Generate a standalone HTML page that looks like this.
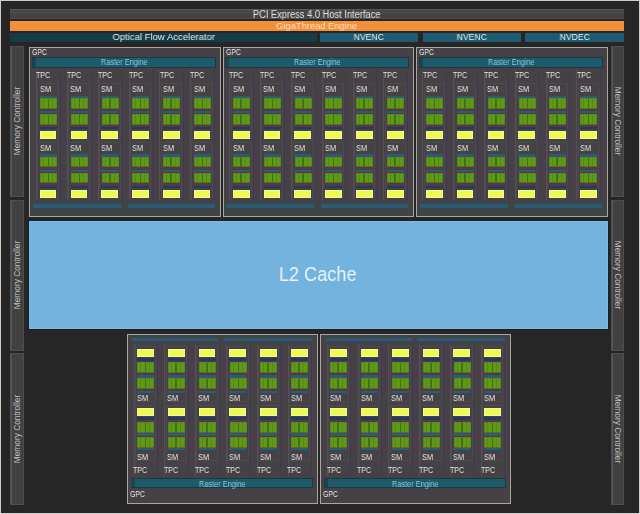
<!DOCTYPE html>
<html><head><meta charset="utf-8"><style>
html,body{margin:0;padding:0;}
body{width:640px;height:514px;position:relative;overflow:hidden;background:#cdcdcd;font-family:"Liberation Sans", sans-serif;}
body div{position:absolute;box-sizing:border-box;white-space:nowrap;}
body div>span{will-change:transform;}
</style></head><body>
<div id="wrap" style="left:0;top:0;width:640px;height:514px;">
<div style="left:1px;top:1px;width:638px;height:512px;background:#262626"></div>
<div style="left:10.00px;top:9.00px;width:614.00px;height:10.00px;background:linear-gradient(#575757 0 1px,#48484a 1px 5px,#424346 5px 9px,#524e4e 9px);"></div>
<div style="left:10.00px;top:9.80px;width:614.00px;height:10.00px;line-height:10.00px;font-size:10px;color:#e4e4e4;text-align:center;"><span style="display:inline-block;transform:scaleX(0.93);transform-origin:center center">PCI Express 4.0 Host Interface</span></div>
<div style="left:10.00px;top:21.00px;width:614.00px;height:10.00px;background:#f2913a;"></div>
<div style="left:10.00px;top:21.20px;width:614.00px;height:10.00px;line-height:10.00px;font-size:9.6px;color:#ffe2c6;text-align:center;"><span style="display:inline-block;transform:scaleX(0.975);transform-origin:center center">GigaThread Engine</span></div>
<div style="left:10.00px;top:32.50px;width:306.50px;height:9.50px;background:#153c48;"></div>
<div style="left:10.00px;top:32.30px;width:306.50px;height:9.50px;line-height:9.50px;font-size:9.6px;color:#e2eff3;text-align:center;"><span style="display:inline-block;transform:scaleX(0.99);transform-origin:center center">Optical Flow Accelerator</span></div>
<div style="left:320.00px;top:32.50px;width:98.00px;height:9.50px;background:#1f5b70;"></div>
<div style="left:320.00px;top:32.20px;width:98.00px;height:9.50px;line-height:9.50px;font-size:9.6px;color:#e6f3f7;text-align:center;"><span style="display:inline-block;transform:scaleX(0.9);transform-origin:center center">NVENC</span></div>
<div style="left:422.50px;top:32.50px;width:98.50px;height:9.50px;background:#1f5b70;"></div>
<div style="left:422.50px;top:32.20px;width:98.50px;height:9.50px;line-height:9.50px;font-size:9.6px;color:#e6f3f7;text-align:center;"><span style="display:inline-block;transform:scaleX(0.9);transform-origin:center center">NVENC</span></div>
<div style="left:525.00px;top:32.50px;width:99.00px;height:9.50px;background:#1f5b70;"></div>
<div style="left:525.00px;top:32.20px;width:99.00px;height:9.50px;line-height:9.50px;font-size:9.6px;color:#e6f3f7;text-align:center;"><span style="display:inline-block;transform:scaleX(0.9);transform-origin:center center">NVDEC</span></div>
<div style="left:10.30px;top:46.00px;width:13.40px;height:150.50px;background:#414141;box-shadow:inset 0 0 0 1px #4e4e4e;"></div>
<div style="left:11.30px;top:47.00px;width:1.00px;height:148.50px;background:#585858;"></div>
<div style="left:-33.00px;top:116.25px;width:100px;height:10px;line-height:10px;font-size:9.2px;color:#c0c0c0;text-align:center;transform:rotate(-90deg) scaleX(0.905);">Memory Controller</div>
<div style="left:10.30px;top:199.80px;width:13.40px;height:151.20px;background:#414141;box-shadow:inset 0 0 0 1px #4e4e4e;"></div>
<div style="left:11.30px;top:200.80px;width:1.00px;height:149.20px;background:#585858;"></div>
<div style="left:-33.00px;top:270.40px;width:100px;height:10px;line-height:10px;font-size:9.2px;color:#c0c0c0;text-align:center;transform:rotate(-90deg) scaleX(0.905);">Memory Controller</div>
<div style="left:10.30px;top:353.00px;width:13.40px;height:151.60px;background:#414141;box-shadow:inset 0 0 0 1px #4e4e4e;"></div>
<div style="left:11.30px;top:354.00px;width:1.00px;height:149.60px;background:#585858;"></div>
<div style="left:-33.00px;top:423.80px;width:100px;height:10px;line-height:10px;font-size:9.2px;color:#c0c0c0;text-align:center;transform:rotate(-90deg) scaleX(0.905);">Memory Controller</div>
<div style="left:610.80px;top:46.00px;width:13.40px;height:150.50px;background:#414141;box-shadow:inset 0 0 0 1px #4e4e4e;"></div>
<div style="left:611.80px;top:47.00px;width:1.00px;height:148.50px;background:#585858;"></div>
<div style="left:567.50px;top:116.25px;width:100px;height:10px;line-height:10px;font-size:9.2px;color:#c0c0c0;text-align:center;transform:rotate(90deg) scaleX(0.905);">Memory Controller</div>
<div style="left:610.80px;top:199.80px;width:13.40px;height:151.20px;background:#414141;box-shadow:inset 0 0 0 1px #4e4e4e;"></div>
<div style="left:611.80px;top:200.80px;width:1.00px;height:149.20px;background:#585858;"></div>
<div style="left:567.50px;top:270.40px;width:100px;height:10px;line-height:10px;font-size:9.2px;color:#c0c0c0;text-align:center;transform:rotate(90deg) scaleX(0.905);">Memory Controller</div>
<div style="left:610.80px;top:353.00px;width:13.40px;height:151.60px;background:#414141;box-shadow:inset 0 0 0 1px #4e4e4e;"></div>
<div style="left:611.80px;top:354.00px;width:1.00px;height:149.60px;background:#585858;"></div>
<div style="left:567.50px;top:423.80px;width:100px;height:10px;line-height:10px;font-size:9.2px;color:#c0c0c0;text-align:center;transform:rotate(90deg) scaleX(0.905);">Memory Controller</div>
<div style="left:27.60px;top:218.60px;width:581.00px;height:111.60px;background:linear-gradient(#25232b 0,#1b2431 1.5px,#13202e 2.4px);"></div>
<div style="left:28.60px;top:220.60px;width:579.00px;height:108.40px;background:#73b3dd;box-shadow:inset 0 0 0 1px #7fbbdd;"></div>
<div style="left:28.50px;top:219.70px;width:579.20px;height:108.50px;line-height:108.50px;font-size:19.5px;color:#eaf5fc;text-align:center;"><span style="display:inline-block;transform:scaleX(0.93);transform-origin:center center">L2 Cache</span></div>
<div style="left:29.20px;top:47.00px;width:191.50px;height:169.80px;background:#464144;box-shadow:inset 0 0 0 1px #a8a5a2;"></div>
<div style="left:32.20px;top:48.60px;width:30.00px;height:7.50px;line-height:7.50px;font-size:8.4px;color:#ececec;text-align:left;"><span style="display:inline-block;transform:scaleX(0.82);transform-origin:left center">GPC</span></div>
<div style="left:31.80px;top:57.00px;width:183.90px;height:10.50px;background:#1f5a6a;box-shadow:inset 0 0 0 1px #173a44;"></div>
<div style="left:32.60px;top:58.00px;width:3.20px;height:8.50px;background:#1c4550;"></div>
<div style="left:31.80px;top:57.30px;width:183.90px;height:10.50px;line-height:10.50px;font-size:8.6px;color:#86cde4;text-align:center;"><span style="display:inline-block;transform:scaleX(0.855);transform-origin:center center">Raster Engine</span></div>
<div style="left:32.20px;top:97.80px;width:185.50px;height:1.20px;background:#5a3550;opacity:.7;"></div>
<div style="left:32.20px;top:108.10px;width:185.50px;height:1.20px;background:#5a3550;opacity:.7;"></div>
<div style="left:32.20px;top:113.70px;width:185.50px;height:1.20px;background:#5a3550;opacity:.7;"></div>
<div style="left:32.20px;top:124.20px;width:185.50px;height:1.20px;background:#5a3550;opacity:.7;"></div>
<div style="left:32.20px;top:156.40px;width:185.50px;height:1.20px;background:#5a3550;opacity:.7;"></div>
<div style="left:32.20px;top:166.70px;width:185.50px;height:1.20px;background:#5a3550;opacity:.7;"></div>
<div style="left:32.20px;top:172.30px;width:185.50px;height:1.20px;background:#5a3550;opacity:.7;"></div>
<div style="left:32.20px;top:182.80px;width:185.50px;height:1.20px;background:#5a3550;opacity:.7;"></div>
<div style="left:36.20px;top:70.00px;width:1.00px;height:130.00px;background:#535158;"></div>
<div style="left:59.70px;top:70.00px;width:1.00px;height:130.00px;background:#3c3a56;"></div>
<div style="left:36.30px;top:71.40px;width:20.00px;height:8.00px;line-height:8.00px;font-size:8.4px;color:#e8e8e8;text-align:left;"><span style="display:inline-block;transform:scaleX(0.85);transform-origin:left center">TPC</span></div>
<div style="left:37.40px;top:83.20px;width:21.60px;height:56.00px;box-shadow:inset 0 0 0 1px #4c4a4c;"></div>
<div style="left:39.50px;top:86.00px;width:16.00px;height:7.50px;line-height:7.50px;font-size:8.2px;color:#e8e8e8;text-align:left;"><span style="display:inline-block;transform:scaleX(0.9);transform-origin:left center">SM</span></div>
<div style="left:39.70px;top:95.50px;width:17.00px;height:2.50px;background:#236078;"></div>
<div style="left:39.70px;top:110.50px;width:17.00px;height:2.50px;background:#236078;"></div>
<div style="left:39.70px;top:126.80px;width:17.00px;height:2.50px;background:#203a66;"></div>
<div style="left:39.90px;top:98.30px;width:17.00px;height:10.30px;background:linear-gradient(90deg,#4f8c1a 0 1px,#5e9a14 1px 3px,#4f8c1a 3px 4px,#5e9a14 4px 7.5px,#3b7418 7.5px 9px,#5e9a14 9px 12px,#4f8c1a 12px 13px,#5e9a14 13px 16px,#4f8c1a 16px 17px);"></div>
<div style="left:39.90px;top:98.30px;width:17.00px;height:1.00px;background:#8a6a20;opacity:.75;"></div>
<div style="left:39.90px;top:107.60px;width:17.00px;height:1.00px;background:#8a4a20;opacity:.75;"></div>
<div style="left:39.90px;top:114.20px;width:17.00px;height:10.50px;background:linear-gradient(90deg,#4f8c1a 0 1px,#5e9a14 1px 3px,#4f8c1a 3px 4px,#5e9a14 4px 7.5px,#3b7418 7.5px 9px,#5e9a14 9px 12px,#4f8c1a 12px 13px,#5e9a14 13px 16px,#4f8c1a 16px 17px);"></div>
<div style="left:39.90px;top:114.20px;width:17.00px;height:1.00px;background:#8a6a20;opacity:.75;"></div>
<div style="left:39.90px;top:123.70px;width:17.00px;height:1.00px;background:#8a4a20;opacity:.75;"></div>
<div style="left:39.70px;top:131.00px;width:16.80px;height:7.70px;background:#eefa4e;box-shadow:inset 0 0 0 1px #f2f8a0;"></div>
<div style="left:37.40px;top:142.40px;width:21.60px;height:56.00px;box-shadow:inset 0 0 0 1px #4c4a4c;"></div>
<div style="left:39.50px;top:145.20px;width:16.00px;height:7.50px;line-height:7.50px;font-size:8.2px;color:#e8e8e8;text-align:left;"><span style="display:inline-block;transform:scaleX(0.9);transform-origin:left center">SM</span></div>
<div style="left:39.70px;top:154.00px;width:17.00px;height:2.50px;background:#236078;"></div>
<div style="left:39.70px;top:169.60px;width:17.00px;height:2.50px;background:#236078;"></div>
<div style="left:39.70px;top:185.80px;width:17.00px;height:2.50px;background:#203a66;"></div>
<div style="left:39.90px;top:156.90px;width:17.00px;height:10.30px;background:linear-gradient(90deg,#4f8c1a 0 1px,#5e9a14 1px 3px,#4f8c1a 3px 4px,#5e9a14 4px 7.5px,#3b7418 7.5px 9px,#5e9a14 9px 12px,#4f8c1a 12px 13px,#5e9a14 13px 16px,#4f8c1a 16px 17px);"></div>
<div style="left:39.90px;top:156.90px;width:17.00px;height:1.00px;background:#8a6a20;opacity:.75;"></div>
<div style="left:39.90px;top:166.20px;width:17.00px;height:1.00px;background:#8a4a20;opacity:.75;"></div>
<div style="left:39.90px;top:172.80px;width:17.00px;height:10.50px;background:linear-gradient(90deg,#4f8c1a 0 1px,#5e9a14 1px 3px,#4f8c1a 3px 4px,#5e9a14 4px 7.5px,#3b7418 7.5px 9px,#5e9a14 9px 12px,#4f8c1a 12px 13px,#5e9a14 13px 16px,#4f8c1a 16px 17px);"></div>
<div style="left:39.90px;top:172.80px;width:17.00px;height:1.00px;background:#8a6a20;opacity:.75;"></div>
<div style="left:39.90px;top:182.30px;width:17.00px;height:1.00px;background:#8a4a20;opacity:.75;"></div>
<div style="left:39.70px;top:190.00px;width:16.80px;height:7.70px;background:#eefa4e;box-shadow:inset 0 0 0 1px #f2f8a0;"></div>
<div style="left:67.00px;top:70.00px;width:1.00px;height:130.00px;background:#535158;"></div>
<div style="left:90.50px;top:70.00px;width:1.00px;height:130.00px;background:#3c3a56;"></div>
<div style="left:67.10px;top:71.40px;width:20.00px;height:8.00px;line-height:8.00px;font-size:8.4px;color:#e8e8e8;text-align:left;"><span style="display:inline-block;transform:scaleX(0.85);transform-origin:left center">TPC</span></div>
<div style="left:68.20px;top:83.20px;width:21.60px;height:56.00px;box-shadow:inset 0 0 0 1px #4c4a4c;"></div>
<div style="left:70.30px;top:86.00px;width:16.00px;height:7.50px;line-height:7.50px;font-size:8.2px;color:#e8e8e8;text-align:left;"><span style="display:inline-block;transform:scaleX(0.9);transform-origin:left center">SM</span></div>
<div style="left:70.50px;top:95.50px;width:17.00px;height:2.50px;background:#236078;"></div>
<div style="left:70.50px;top:110.50px;width:17.00px;height:2.50px;background:#236078;"></div>
<div style="left:70.50px;top:126.80px;width:17.00px;height:2.50px;background:#203a66;"></div>
<div style="left:70.70px;top:98.30px;width:17.00px;height:10.30px;background:linear-gradient(90deg,#4f8c1a 0 1px,#5e9a14 1px 3px,#4f8c1a 3px 4px,#5e9a14 4px 7.5px,#3b7418 7.5px 9px,#5e9a14 9px 12px,#4f8c1a 12px 13px,#5e9a14 13px 16px,#4f8c1a 16px 17px);"></div>
<div style="left:70.70px;top:98.30px;width:17.00px;height:1.00px;background:#8a6a20;opacity:.75;"></div>
<div style="left:70.70px;top:107.60px;width:17.00px;height:1.00px;background:#8a4a20;opacity:.75;"></div>
<div style="left:70.70px;top:114.20px;width:17.00px;height:10.50px;background:linear-gradient(90deg,#4f8c1a 0 1px,#5e9a14 1px 3px,#4f8c1a 3px 4px,#5e9a14 4px 7.5px,#3b7418 7.5px 9px,#5e9a14 9px 12px,#4f8c1a 12px 13px,#5e9a14 13px 16px,#4f8c1a 16px 17px);"></div>
<div style="left:70.70px;top:114.20px;width:17.00px;height:1.00px;background:#8a6a20;opacity:.75;"></div>
<div style="left:70.70px;top:123.70px;width:17.00px;height:1.00px;background:#8a4a20;opacity:.75;"></div>
<div style="left:70.50px;top:131.00px;width:16.80px;height:7.70px;background:#eefa4e;box-shadow:inset 0 0 0 1px #f2f8a0;"></div>
<div style="left:68.20px;top:142.40px;width:21.60px;height:56.00px;box-shadow:inset 0 0 0 1px #4c4a4c;"></div>
<div style="left:70.30px;top:145.20px;width:16.00px;height:7.50px;line-height:7.50px;font-size:8.2px;color:#e8e8e8;text-align:left;"><span style="display:inline-block;transform:scaleX(0.9);transform-origin:left center">SM</span></div>
<div style="left:70.50px;top:154.00px;width:17.00px;height:2.50px;background:#236078;"></div>
<div style="left:70.50px;top:169.60px;width:17.00px;height:2.50px;background:#236078;"></div>
<div style="left:70.50px;top:185.80px;width:17.00px;height:2.50px;background:#203a66;"></div>
<div style="left:70.70px;top:156.90px;width:17.00px;height:10.30px;background:linear-gradient(90deg,#4f8c1a 0 1px,#5e9a14 1px 3px,#4f8c1a 3px 4px,#5e9a14 4px 7.5px,#3b7418 7.5px 9px,#5e9a14 9px 12px,#4f8c1a 12px 13px,#5e9a14 13px 16px,#4f8c1a 16px 17px);"></div>
<div style="left:70.70px;top:156.90px;width:17.00px;height:1.00px;background:#8a6a20;opacity:.75;"></div>
<div style="left:70.70px;top:166.20px;width:17.00px;height:1.00px;background:#8a4a20;opacity:.75;"></div>
<div style="left:70.70px;top:172.80px;width:17.00px;height:10.50px;background:linear-gradient(90deg,#4f8c1a 0 1px,#5e9a14 1px 3px,#4f8c1a 3px 4px,#5e9a14 4px 7.5px,#3b7418 7.5px 9px,#5e9a14 9px 12px,#4f8c1a 12px 13px,#5e9a14 13px 16px,#4f8c1a 16px 17px);"></div>
<div style="left:70.70px;top:172.80px;width:17.00px;height:1.00px;background:#8a6a20;opacity:.75;"></div>
<div style="left:70.70px;top:182.30px;width:17.00px;height:1.00px;background:#8a4a20;opacity:.75;"></div>
<div style="left:70.50px;top:190.00px;width:16.80px;height:7.70px;background:#eefa4e;box-shadow:inset 0 0 0 1px #f2f8a0;"></div>
<div style="left:97.80px;top:70.00px;width:1.00px;height:130.00px;background:#535158;"></div>
<div style="left:121.30px;top:70.00px;width:1.00px;height:130.00px;background:#3c3a56;"></div>
<div style="left:97.90px;top:71.40px;width:20.00px;height:8.00px;line-height:8.00px;font-size:8.4px;color:#e8e8e8;text-align:left;"><span style="display:inline-block;transform:scaleX(0.85);transform-origin:left center">TPC</span></div>
<div style="left:99.00px;top:83.20px;width:21.60px;height:56.00px;box-shadow:inset 0 0 0 1px #4c4a4c;"></div>
<div style="left:101.10px;top:86.00px;width:16.00px;height:7.50px;line-height:7.50px;font-size:8.2px;color:#e8e8e8;text-align:left;"><span style="display:inline-block;transform:scaleX(0.9);transform-origin:left center">SM</span></div>
<div style="left:101.30px;top:95.50px;width:17.00px;height:2.50px;background:#236078;"></div>
<div style="left:101.30px;top:110.50px;width:17.00px;height:2.50px;background:#236078;"></div>
<div style="left:101.30px;top:126.80px;width:17.00px;height:2.50px;background:#203a66;"></div>
<div style="left:101.50px;top:98.30px;width:17.00px;height:10.30px;background:linear-gradient(90deg,#4f8c1a 0 1px,#5e9a14 1px 3px,#4f8c1a 3px 4px,#5e9a14 4px 7.5px,#3b7418 7.5px 9px,#5e9a14 9px 12px,#4f8c1a 12px 13px,#5e9a14 13px 16px,#4f8c1a 16px 17px);"></div>
<div style="left:101.50px;top:98.30px;width:17.00px;height:1.00px;background:#8a6a20;opacity:.75;"></div>
<div style="left:101.50px;top:107.60px;width:17.00px;height:1.00px;background:#8a4a20;opacity:.75;"></div>
<div style="left:101.50px;top:114.20px;width:17.00px;height:10.50px;background:linear-gradient(90deg,#4f8c1a 0 1px,#5e9a14 1px 3px,#4f8c1a 3px 4px,#5e9a14 4px 7.5px,#3b7418 7.5px 9px,#5e9a14 9px 12px,#4f8c1a 12px 13px,#5e9a14 13px 16px,#4f8c1a 16px 17px);"></div>
<div style="left:101.50px;top:114.20px;width:17.00px;height:1.00px;background:#8a6a20;opacity:.75;"></div>
<div style="left:101.50px;top:123.70px;width:17.00px;height:1.00px;background:#8a4a20;opacity:.75;"></div>
<div style="left:101.30px;top:131.00px;width:16.80px;height:7.70px;background:#eefa4e;box-shadow:inset 0 0 0 1px #f2f8a0;"></div>
<div style="left:99.00px;top:142.40px;width:21.60px;height:56.00px;box-shadow:inset 0 0 0 1px #4c4a4c;"></div>
<div style="left:101.10px;top:145.20px;width:16.00px;height:7.50px;line-height:7.50px;font-size:8.2px;color:#e8e8e8;text-align:left;"><span style="display:inline-block;transform:scaleX(0.9);transform-origin:left center">SM</span></div>
<div style="left:101.30px;top:154.00px;width:17.00px;height:2.50px;background:#236078;"></div>
<div style="left:101.30px;top:169.60px;width:17.00px;height:2.50px;background:#236078;"></div>
<div style="left:101.30px;top:185.80px;width:17.00px;height:2.50px;background:#203a66;"></div>
<div style="left:101.50px;top:156.90px;width:17.00px;height:10.30px;background:linear-gradient(90deg,#4f8c1a 0 1px,#5e9a14 1px 3px,#4f8c1a 3px 4px,#5e9a14 4px 7.5px,#3b7418 7.5px 9px,#5e9a14 9px 12px,#4f8c1a 12px 13px,#5e9a14 13px 16px,#4f8c1a 16px 17px);"></div>
<div style="left:101.50px;top:156.90px;width:17.00px;height:1.00px;background:#8a6a20;opacity:.75;"></div>
<div style="left:101.50px;top:166.20px;width:17.00px;height:1.00px;background:#8a4a20;opacity:.75;"></div>
<div style="left:101.50px;top:172.80px;width:17.00px;height:10.50px;background:linear-gradient(90deg,#4f8c1a 0 1px,#5e9a14 1px 3px,#4f8c1a 3px 4px,#5e9a14 4px 7.5px,#3b7418 7.5px 9px,#5e9a14 9px 12px,#4f8c1a 12px 13px,#5e9a14 13px 16px,#4f8c1a 16px 17px);"></div>
<div style="left:101.50px;top:172.80px;width:17.00px;height:1.00px;background:#8a6a20;opacity:.75;"></div>
<div style="left:101.50px;top:182.30px;width:17.00px;height:1.00px;background:#8a4a20;opacity:.75;"></div>
<div style="left:101.30px;top:190.00px;width:16.80px;height:7.70px;background:#eefa4e;box-shadow:inset 0 0 0 1px #f2f8a0;"></div>
<div style="left:128.60px;top:70.00px;width:1.00px;height:130.00px;background:#535158;"></div>
<div style="left:152.10px;top:70.00px;width:1.00px;height:130.00px;background:#3c3a56;"></div>
<div style="left:128.70px;top:71.40px;width:20.00px;height:8.00px;line-height:8.00px;font-size:8.4px;color:#e8e8e8;text-align:left;"><span style="display:inline-block;transform:scaleX(0.85);transform-origin:left center">TPC</span></div>
<div style="left:129.80px;top:83.20px;width:21.60px;height:56.00px;box-shadow:inset 0 0 0 1px #4c4a4c;"></div>
<div style="left:131.90px;top:86.00px;width:16.00px;height:7.50px;line-height:7.50px;font-size:8.2px;color:#e8e8e8;text-align:left;"><span style="display:inline-block;transform:scaleX(0.9);transform-origin:left center">SM</span></div>
<div style="left:132.10px;top:95.50px;width:17.00px;height:2.50px;background:#236078;"></div>
<div style="left:132.10px;top:110.50px;width:17.00px;height:2.50px;background:#236078;"></div>
<div style="left:132.10px;top:126.80px;width:17.00px;height:2.50px;background:#203a66;"></div>
<div style="left:132.30px;top:98.30px;width:17.00px;height:10.30px;background:linear-gradient(90deg,#4f8c1a 0 1px,#5e9a14 1px 3px,#4f8c1a 3px 4px,#5e9a14 4px 7.5px,#3b7418 7.5px 9px,#5e9a14 9px 12px,#4f8c1a 12px 13px,#5e9a14 13px 16px,#4f8c1a 16px 17px);"></div>
<div style="left:132.30px;top:98.30px;width:17.00px;height:1.00px;background:#8a6a20;opacity:.75;"></div>
<div style="left:132.30px;top:107.60px;width:17.00px;height:1.00px;background:#8a4a20;opacity:.75;"></div>
<div style="left:132.30px;top:114.20px;width:17.00px;height:10.50px;background:linear-gradient(90deg,#4f8c1a 0 1px,#5e9a14 1px 3px,#4f8c1a 3px 4px,#5e9a14 4px 7.5px,#3b7418 7.5px 9px,#5e9a14 9px 12px,#4f8c1a 12px 13px,#5e9a14 13px 16px,#4f8c1a 16px 17px);"></div>
<div style="left:132.30px;top:114.20px;width:17.00px;height:1.00px;background:#8a6a20;opacity:.75;"></div>
<div style="left:132.30px;top:123.70px;width:17.00px;height:1.00px;background:#8a4a20;opacity:.75;"></div>
<div style="left:132.10px;top:131.00px;width:16.80px;height:7.70px;background:#eefa4e;box-shadow:inset 0 0 0 1px #f2f8a0;"></div>
<div style="left:129.80px;top:142.40px;width:21.60px;height:56.00px;box-shadow:inset 0 0 0 1px #4c4a4c;"></div>
<div style="left:131.90px;top:145.20px;width:16.00px;height:7.50px;line-height:7.50px;font-size:8.2px;color:#e8e8e8;text-align:left;"><span style="display:inline-block;transform:scaleX(0.9);transform-origin:left center">SM</span></div>
<div style="left:132.10px;top:154.00px;width:17.00px;height:2.50px;background:#236078;"></div>
<div style="left:132.10px;top:169.60px;width:17.00px;height:2.50px;background:#236078;"></div>
<div style="left:132.10px;top:185.80px;width:17.00px;height:2.50px;background:#203a66;"></div>
<div style="left:132.30px;top:156.90px;width:17.00px;height:10.30px;background:linear-gradient(90deg,#4f8c1a 0 1px,#5e9a14 1px 3px,#4f8c1a 3px 4px,#5e9a14 4px 7.5px,#3b7418 7.5px 9px,#5e9a14 9px 12px,#4f8c1a 12px 13px,#5e9a14 13px 16px,#4f8c1a 16px 17px);"></div>
<div style="left:132.30px;top:156.90px;width:17.00px;height:1.00px;background:#8a6a20;opacity:.75;"></div>
<div style="left:132.30px;top:166.20px;width:17.00px;height:1.00px;background:#8a4a20;opacity:.75;"></div>
<div style="left:132.30px;top:172.80px;width:17.00px;height:10.50px;background:linear-gradient(90deg,#4f8c1a 0 1px,#5e9a14 1px 3px,#4f8c1a 3px 4px,#5e9a14 4px 7.5px,#3b7418 7.5px 9px,#5e9a14 9px 12px,#4f8c1a 12px 13px,#5e9a14 13px 16px,#4f8c1a 16px 17px);"></div>
<div style="left:132.30px;top:172.80px;width:17.00px;height:1.00px;background:#8a6a20;opacity:.75;"></div>
<div style="left:132.30px;top:182.30px;width:17.00px;height:1.00px;background:#8a4a20;opacity:.75;"></div>
<div style="left:132.10px;top:190.00px;width:16.80px;height:7.70px;background:#eefa4e;box-shadow:inset 0 0 0 1px #f2f8a0;"></div>
<div style="left:159.40px;top:70.00px;width:1.00px;height:130.00px;background:#535158;"></div>
<div style="left:182.90px;top:70.00px;width:1.00px;height:130.00px;background:#3c3a56;"></div>
<div style="left:159.50px;top:71.40px;width:20.00px;height:8.00px;line-height:8.00px;font-size:8.4px;color:#e8e8e8;text-align:left;"><span style="display:inline-block;transform:scaleX(0.85);transform-origin:left center">TPC</span></div>
<div style="left:160.60px;top:83.20px;width:21.60px;height:56.00px;box-shadow:inset 0 0 0 1px #4c4a4c;"></div>
<div style="left:162.70px;top:86.00px;width:16.00px;height:7.50px;line-height:7.50px;font-size:8.2px;color:#e8e8e8;text-align:left;"><span style="display:inline-block;transform:scaleX(0.9);transform-origin:left center">SM</span></div>
<div style="left:162.90px;top:95.50px;width:17.00px;height:2.50px;background:#236078;"></div>
<div style="left:162.90px;top:110.50px;width:17.00px;height:2.50px;background:#236078;"></div>
<div style="left:162.90px;top:126.80px;width:17.00px;height:2.50px;background:#203a66;"></div>
<div style="left:163.10px;top:98.30px;width:17.00px;height:10.30px;background:linear-gradient(90deg,#4f8c1a 0 1px,#5e9a14 1px 3px,#4f8c1a 3px 4px,#5e9a14 4px 7.5px,#3b7418 7.5px 9px,#5e9a14 9px 12px,#4f8c1a 12px 13px,#5e9a14 13px 16px,#4f8c1a 16px 17px);"></div>
<div style="left:163.10px;top:98.30px;width:17.00px;height:1.00px;background:#8a6a20;opacity:.75;"></div>
<div style="left:163.10px;top:107.60px;width:17.00px;height:1.00px;background:#8a4a20;opacity:.75;"></div>
<div style="left:163.10px;top:114.20px;width:17.00px;height:10.50px;background:linear-gradient(90deg,#4f8c1a 0 1px,#5e9a14 1px 3px,#4f8c1a 3px 4px,#5e9a14 4px 7.5px,#3b7418 7.5px 9px,#5e9a14 9px 12px,#4f8c1a 12px 13px,#5e9a14 13px 16px,#4f8c1a 16px 17px);"></div>
<div style="left:163.10px;top:114.20px;width:17.00px;height:1.00px;background:#8a6a20;opacity:.75;"></div>
<div style="left:163.10px;top:123.70px;width:17.00px;height:1.00px;background:#8a4a20;opacity:.75;"></div>
<div style="left:162.90px;top:131.00px;width:16.80px;height:7.70px;background:#eefa4e;box-shadow:inset 0 0 0 1px #f2f8a0;"></div>
<div style="left:160.60px;top:142.40px;width:21.60px;height:56.00px;box-shadow:inset 0 0 0 1px #4c4a4c;"></div>
<div style="left:162.70px;top:145.20px;width:16.00px;height:7.50px;line-height:7.50px;font-size:8.2px;color:#e8e8e8;text-align:left;"><span style="display:inline-block;transform:scaleX(0.9);transform-origin:left center">SM</span></div>
<div style="left:162.90px;top:154.00px;width:17.00px;height:2.50px;background:#236078;"></div>
<div style="left:162.90px;top:169.60px;width:17.00px;height:2.50px;background:#236078;"></div>
<div style="left:162.90px;top:185.80px;width:17.00px;height:2.50px;background:#203a66;"></div>
<div style="left:163.10px;top:156.90px;width:17.00px;height:10.30px;background:linear-gradient(90deg,#4f8c1a 0 1px,#5e9a14 1px 3px,#4f8c1a 3px 4px,#5e9a14 4px 7.5px,#3b7418 7.5px 9px,#5e9a14 9px 12px,#4f8c1a 12px 13px,#5e9a14 13px 16px,#4f8c1a 16px 17px);"></div>
<div style="left:163.10px;top:156.90px;width:17.00px;height:1.00px;background:#8a6a20;opacity:.75;"></div>
<div style="left:163.10px;top:166.20px;width:17.00px;height:1.00px;background:#8a4a20;opacity:.75;"></div>
<div style="left:163.10px;top:172.80px;width:17.00px;height:10.50px;background:linear-gradient(90deg,#4f8c1a 0 1px,#5e9a14 1px 3px,#4f8c1a 3px 4px,#5e9a14 4px 7.5px,#3b7418 7.5px 9px,#5e9a14 9px 12px,#4f8c1a 12px 13px,#5e9a14 13px 16px,#4f8c1a 16px 17px);"></div>
<div style="left:163.10px;top:172.80px;width:17.00px;height:1.00px;background:#8a6a20;opacity:.75;"></div>
<div style="left:163.10px;top:182.30px;width:17.00px;height:1.00px;background:#8a4a20;opacity:.75;"></div>
<div style="left:162.90px;top:190.00px;width:16.80px;height:7.70px;background:#eefa4e;box-shadow:inset 0 0 0 1px #f2f8a0;"></div>
<div style="left:190.20px;top:70.00px;width:1.00px;height:130.00px;background:#535158;"></div>
<div style="left:213.70px;top:70.00px;width:1.00px;height:130.00px;background:#3c3a56;"></div>
<div style="left:190.30px;top:71.40px;width:20.00px;height:8.00px;line-height:8.00px;font-size:8.4px;color:#e8e8e8;text-align:left;"><span style="display:inline-block;transform:scaleX(0.85);transform-origin:left center">TPC</span></div>
<div style="left:191.40px;top:83.20px;width:21.60px;height:56.00px;box-shadow:inset 0 0 0 1px #4c4a4c;"></div>
<div style="left:193.50px;top:86.00px;width:16.00px;height:7.50px;line-height:7.50px;font-size:8.2px;color:#e8e8e8;text-align:left;"><span style="display:inline-block;transform:scaleX(0.9);transform-origin:left center">SM</span></div>
<div style="left:193.70px;top:95.50px;width:17.00px;height:2.50px;background:#236078;"></div>
<div style="left:193.70px;top:110.50px;width:17.00px;height:2.50px;background:#236078;"></div>
<div style="left:193.70px;top:126.80px;width:17.00px;height:2.50px;background:#203a66;"></div>
<div style="left:193.90px;top:98.30px;width:17.00px;height:10.30px;background:linear-gradient(90deg,#4f8c1a 0 1px,#5e9a14 1px 3px,#4f8c1a 3px 4px,#5e9a14 4px 7.5px,#3b7418 7.5px 9px,#5e9a14 9px 12px,#4f8c1a 12px 13px,#5e9a14 13px 16px,#4f8c1a 16px 17px);"></div>
<div style="left:193.90px;top:98.30px;width:17.00px;height:1.00px;background:#8a6a20;opacity:.75;"></div>
<div style="left:193.90px;top:107.60px;width:17.00px;height:1.00px;background:#8a4a20;opacity:.75;"></div>
<div style="left:193.90px;top:114.20px;width:17.00px;height:10.50px;background:linear-gradient(90deg,#4f8c1a 0 1px,#5e9a14 1px 3px,#4f8c1a 3px 4px,#5e9a14 4px 7.5px,#3b7418 7.5px 9px,#5e9a14 9px 12px,#4f8c1a 12px 13px,#5e9a14 13px 16px,#4f8c1a 16px 17px);"></div>
<div style="left:193.90px;top:114.20px;width:17.00px;height:1.00px;background:#8a6a20;opacity:.75;"></div>
<div style="left:193.90px;top:123.70px;width:17.00px;height:1.00px;background:#8a4a20;opacity:.75;"></div>
<div style="left:193.70px;top:131.00px;width:16.80px;height:7.70px;background:#eefa4e;box-shadow:inset 0 0 0 1px #f2f8a0;"></div>
<div style="left:191.40px;top:142.40px;width:21.60px;height:56.00px;box-shadow:inset 0 0 0 1px #4c4a4c;"></div>
<div style="left:193.50px;top:145.20px;width:16.00px;height:7.50px;line-height:7.50px;font-size:8.2px;color:#e8e8e8;text-align:left;"><span style="display:inline-block;transform:scaleX(0.9);transform-origin:left center">SM</span></div>
<div style="left:193.70px;top:154.00px;width:17.00px;height:2.50px;background:#236078;"></div>
<div style="left:193.70px;top:169.60px;width:17.00px;height:2.50px;background:#236078;"></div>
<div style="left:193.70px;top:185.80px;width:17.00px;height:2.50px;background:#203a66;"></div>
<div style="left:193.90px;top:156.90px;width:17.00px;height:10.30px;background:linear-gradient(90deg,#4f8c1a 0 1px,#5e9a14 1px 3px,#4f8c1a 3px 4px,#5e9a14 4px 7.5px,#3b7418 7.5px 9px,#5e9a14 9px 12px,#4f8c1a 12px 13px,#5e9a14 13px 16px,#4f8c1a 16px 17px);"></div>
<div style="left:193.90px;top:156.90px;width:17.00px;height:1.00px;background:#8a6a20;opacity:.75;"></div>
<div style="left:193.90px;top:166.20px;width:17.00px;height:1.00px;background:#8a4a20;opacity:.75;"></div>
<div style="left:193.90px;top:172.80px;width:17.00px;height:10.50px;background:linear-gradient(90deg,#4f8c1a 0 1px,#5e9a14 1px 3px,#4f8c1a 3px 4px,#5e9a14 4px 7.5px,#3b7418 7.5px 9px,#5e9a14 9px 12px,#4f8c1a 12px 13px,#5e9a14 13px 16px,#4f8c1a 16px 17px);"></div>
<div style="left:193.90px;top:172.80px;width:17.00px;height:1.00px;background:#8a6a20;opacity:.75;"></div>
<div style="left:193.90px;top:182.30px;width:17.00px;height:1.00px;background:#8a4a20;opacity:.75;"></div>
<div style="left:193.70px;top:190.00px;width:16.80px;height:7.70px;background:#eefa4e;box-shadow:inset 0 0 0 1px #f2f8a0;"></div>
<div style="left:30.70px;top:200.00px;width:188.50px;height:15.50px;background:#3f4542;"></div>
<div style="left:32.20px;top:201.20px;width:185.50px;height:1.00px;background:#4a3a58;"></div>
<div style="left:32.50px;top:204.20px;width:88.00px;height:3.60px;background:#2a5a74;"></div>
<div style="left:127.70px;top:204.20px;width:87.50px;height:3.60px;background:#2a5a74;"></div>
<div style="left:222.60px;top:47.00px;width:191.10px;height:169.80px;background:#464144;box-shadow:inset 0 0 0 1px #a8a5a2;"></div>
<div style="left:225.60px;top:48.60px;width:30.00px;height:7.50px;line-height:7.50px;font-size:8.4px;color:#ececec;text-align:left;"><span style="display:inline-block;transform:scaleX(0.82);transform-origin:left center">GPC</span></div>
<div style="left:225.20px;top:57.00px;width:183.50px;height:10.50px;background:#1f5a6a;box-shadow:inset 0 0 0 1px #173a44;"></div>
<div style="left:226.00px;top:58.00px;width:3.20px;height:8.50px;background:#1c4550;"></div>
<div style="left:225.20px;top:57.30px;width:183.50px;height:10.50px;line-height:10.50px;font-size:8.6px;color:#86cde4;text-align:center;"><span style="display:inline-block;transform:scaleX(0.855);transform-origin:center center">Raster Engine</span></div>
<div style="left:225.60px;top:97.80px;width:185.10px;height:1.20px;background:#5a3550;opacity:.7;"></div>
<div style="left:225.60px;top:108.10px;width:185.10px;height:1.20px;background:#5a3550;opacity:.7;"></div>
<div style="left:225.60px;top:113.70px;width:185.10px;height:1.20px;background:#5a3550;opacity:.7;"></div>
<div style="left:225.60px;top:124.20px;width:185.10px;height:1.20px;background:#5a3550;opacity:.7;"></div>
<div style="left:225.60px;top:156.40px;width:185.10px;height:1.20px;background:#5a3550;opacity:.7;"></div>
<div style="left:225.60px;top:166.70px;width:185.10px;height:1.20px;background:#5a3550;opacity:.7;"></div>
<div style="left:225.60px;top:172.30px;width:185.10px;height:1.20px;background:#5a3550;opacity:.7;"></div>
<div style="left:225.60px;top:182.80px;width:185.10px;height:1.20px;background:#5a3550;opacity:.7;"></div>
<div style="left:229.30px;top:70.00px;width:1.00px;height:130.00px;background:#535158;"></div>
<div style="left:252.80px;top:70.00px;width:1.00px;height:130.00px;background:#3c3a56;"></div>
<div style="left:229.40px;top:71.40px;width:20.00px;height:8.00px;line-height:8.00px;font-size:8.4px;color:#e8e8e8;text-align:left;"><span style="display:inline-block;transform:scaleX(0.85);transform-origin:left center">TPC</span></div>
<div style="left:230.50px;top:83.20px;width:21.60px;height:56.00px;box-shadow:inset 0 0 0 1px #4c4a4c;"></div>
<div style="left:232.60px;top:86.00px;width:16.00px;height:7.50px;line-height:7.50px;font-size:8.2px;color:#e8e8e8;text-align:left;"><span style="display:inline-block;transform:scaleX(0.9);transform-origin:left center">SM</span></div>
<div style="left:232.80px;top:95.50px;width:17.00px;height:2.50px;background:#236078;"></div>
<div style="left:232.80px;top:110.50px;width:17.00px;height:2.50px;background:#236078;"></div>
<div style="left:232.80px;top:126.80px;width:17.00px;height:2.50px;background:#203a66;"></div>
<div style="left:233.00px;top:98.30px;width:17.00px;height:10.30px;background:linear-gradient(90deg,#4f8c1a 0 1px,#5e9a14 1px 3px,#4f8c1a 3px 4px,#5e9a14 4px 7.5px,#3b7418 7.5px 9px,#5e9a14 9px 12px,#4f8c1a 12px 13px,#5e9a14 13px 16px,#4f8c1a 16px 17px);"></div>
<div style="left:233.00px;top:98.30px;width:17.00px;height:1.00px;background:#8a6a20;opacity:.75;"></div>
<div style="left:233.00px;top:107.60px;width:17.00px;height:1.00px;background:#8a4a20;opacity:.75;"></div>
<div style="left:233.00px;top:114.20px;width:17.00px;height:10.50px;background:linear-gradient(90deg,#4f8c1a 0 1px,#5e9a14 1px 3px,#4f8c1a 3px 4px,#5e9a14 4px 7.5px,#3b7418 7.5px 9px,#5e9a14 9px 12px,#4f8c1a 12px 13px,#5e9a14 13px 16px,#4f8c1a 16px 17px);"></div>
<div style="left:233.00px;top:114.20px;width:17.00px;height:1.00px;background:#8a6a20;opacity:.75;"></div>
<div style="left:233.00px;top:123.70px;width:17.00px;height:1.00px;background:#8a4a20;opacity:.75;"></div>
<div style="left:232.80px;top:131.00px;width:16.80px;height:7.70px;background:#eefa4e;box-shadow:inset 0 0 0 1px #f2f8a0;"></div>
<div style="left:230.50px;top:142.40px;width:21.60px;height:56.00px;box-shadow:inset 0 0 0 1px #4c4a4c;"></div>
<div style="left:232.60px;top:145.20px;width:16.00px;height:7.50px;line-height:7.50px;font-size:8.2px;color:#e8e8e8;text-align:left;"><span style="display:inline-block;transform:scaleX(0.9);transform-origin:left center">SM</span></div>
<div style="left:232.80px;top:154.00px;width:17.00px;height:2.50px;background:#236078;"></div>
<div style="left:232.80px;top:169.60px;width:17.00px;height:2.50px;background:#236078;"></div>
<div style="left:232.80px;top:185.80px;width:17.00px;height:2.50px;background:#203a66;"></div>
<div style="left:233.00px;top:156.90px;width:17.00px;height:10.30px;background:linear-gradient(90deg,#4f8c1a 0 1px,#5e9a14 1px 3px,#4f8c1a 3px 4px,#5e9a14 4px 7.5px,#3b7418 7.5px 9px,#5e9a14 9px 12px,#4f8c1a 12px 13px,#5e9a14 13px 16px,#4f8c1a 16px 17px);"></div>
<div style="left:233.00px;top:156.90px;width:17.00px;height:1.00px;background:#8a6a20;opacity:.75;"></div>
<div style="left:233.00px;top:166.20px;width:17.00px;height:1.00px;background:#8a4a20;opacity:.75;"></div>
<div style="left:233.00px;top:172.80px;width:17.00px;height:10.50px;background:linear-gradient(90deg,#4f8c1a 0 1px,#5e9a14 1px 3px,#4f8c1a 3px 4px,#5e9a14 4px 7.5px,#3b7418 7.5px 9px,#5e9a14 9px 12px,#4f8c1a 12px 13px,#5e9a14 13px 16px,#4f8c1a 16px 17px);"></div>
<div style="left:233.00px;top:172.80px;width:17.00px;height:1.00px;background:#8a6a20;opacity:.75;"></div>
<div style="left:233.00px;top:182.30px;width:17.00px;height:1.00px;background:#8a4a20;opacity:.75;"></div>
<div style="left:232.80px;top:190.00px;width:16.80px;height:7.70px;background:#eefa4e;box-shadow:inset 0 0 0 1px #f2f8a0;"></div>
<div style="left:260.10px;top:70.00px;width:1.00px;height:130.00px;background:#535158;"></div>
<div style="left:283.60px;top:70.00px;width:1.00px;height:130.00px;background:#3c3a56;"></div>
<div style="left:260.20px;top:71.40px;width:20.00px;height:8.00px;line-height:8.00px;font-size:8.4px;color:#e8e8e8;text-align:left;"><span style="display:inline-block;transform:scaleX(0.85);transform-origin:left center">TPC</span></div>
<div style="left:261.30px;top:83.20px;width:21.60px;height:56.00px;box-shadow:inset 0 0 0 1px #4c4a4c;"></div>
<div style="left:263.40px;top:86.00px;width:16.00px;height:7.50px;line-height:7.50px;font-size:8.2px;color:#e8e8e8;text-align:left;"><span style="display:inline-block;transform:scaleX(0.9);transform-origin:left center">SM</span></div>
<div style="left:263.60px;top:95.50px;width:17.00px;height:2.50px;background:#236078;"></div>
<div style="left:263.60px;top:110.50px;width:17.00px;height:2.50px;background:#236078;"></div>
<div style="left:263.60px;top:126.80px;width:17.00px;height:2.50px;background:#203a66;"></div>
<div style="left:263.80px;top:98.30px;width:17.00px;height:10.30px;background:linear-gradient(90deg,#4f8c1a 0 1px,#5e9a14 1px 3px,#4f8c1a 3px 4px,#5e9a14 4px 7.5px,#3b7418 7.5px 9px,#5e9a14 9px 12px,#4f8c1a 12px 13px,#5e9a14 13px 16px,#4f8c1a 16px 17px);"></div>
<div style="left:263.80px;top:98.30px;width:17.00px;height:1.00px;background:#8a6a20;opacity:.75;"></div>
<div style="left:263.80px;top:107.60px;width:17.00px;height:1.00px;background:#8a4a20;opacity:.75;"></div>
<div style="left:263.80px;top:114.20px;width:17.00px;height:10.50px;background:linear-gradient(90deg,#4f8c1a 0 1px,#5e9a14 1px 3px,#4f8c1a 3px 4px,#5e9a14 4px 7.5px,#3b7418 7.5px 9px,#5e9a14 9px 12px,#4f8c1a 12px 13px,#5e9a14 13px 16px,#4f8c1a 16px 17px);"></div>
<div style="left:263.80px;top:114.20px;width:17.00px;height:1.00px;background:#8a6a20;opacity:.75;"></div>
<div style="left:263.80px;top:123.70px;width:17.00px;height:1.00px;background:#8a4a20;opacity:.75;"></div>
<div style="left:263.60px;top:131.00px;width:16.80px;height:7.70px;background:#eefa4e;box-shadow:inset 0 0 0 1px #f2f8a0;"></div>
<div style="left:261.30px;top:142.40px;width:21.60px;height:56.00px;box-shadow:inset 0 0 0 1px #4c4a4c;"></div>
<div style="left:263.40px;top:145.20px;width:16.00px;height:7.50px;line-height:7.50px;font-size:8.2px;color:#e8e8e8;text-align:left;"><span style="display:inline-block;transform:scaleX(0.9);transform-origin:left center">SM</span></div>
<div style="left:263.60px;top:154.00px;width:17.00px;height:2.50px;background:#236078;"></div>
<div style="left:263.60px;top:169.60px;width:17.00px;height:2.50px;background:#236078;"></div>
<div style="left:263.60px;top:185.80px;width:17.00px;height:2.50px;background:#203a66;"></div>
<div style="left:263.80px;top:156.90px;width:17.00px;height:10.30px;background:linear-gradient(90deg,#4f8c1a 0 1px,#5e9a14 1px 3px,#4f8c1a 3px 4px,#5e9a14 4px 7.5px,#3b7418 7.5px 9px,#5e9a14 9px 12px,#4f8c1a 12px 13px,#5e9a14 13px 16px,#4f8c1a 16px 17px);"></div>
<div style="left:263.80px;top:156.90px;width:17.00px;height:1.00px;background:#8a6a20;opacity:.75;"></div>
<div style="left:263.80px;top:166.20px;width:17.00px;height:1.00px;background:#8a4a20;opacity:.75;"></div>
<div style="left:263.80px;top:172.80px;width:17.00px;height:10.50px;background:linear-gradient(90deg,#4f8c1a 0 1px,#5e9a14 1px 3px,#4f8c1a 3px 4px,#5e9a14 4px 7.5px,#3b7418 7.5px 9px,#5e9a14 9px 12px,#4f8c1a 12px 13px,#5e9a14 13px 16px,#4f8c1a 16px 17px);"></div>
<div style="left:263.80px;top:172.80px;width:17.00px;height:1.00px;background:#8a6a20;opacity:.75;"></div>
<div style="left:263.80px;top:182.30px;width:17.00px;height:1.00px;background:#8a4a20;opacity:.75;"></div>
<div style="left:263.60px;top:190.00px;width:16.80px;height:7.70px;background:#eefa4e;box-shadow:inset 0 0 0 1px #f2f8a0;"></div>
<div style="left:290.90px;top:70.00px;width:1.00px;height:130.00px;background:#535158;"></div>
<div style="left:314.40px;top:70.00px;width:1.00px;height:130.00px;background:#3c3a56;"></div>
<div style="left:291.00px;top:71.40px;width:20.00px;height:8.00px;line-height:8.00px;font-size:8.4px;color:#e8e8e8;text-align:left;"><span style="display:inline-block;transform:scaleX(0.85);transform-origin:left center">TPC</span></div>
<div style="left:292.10px;top:83.20px;width:21.60px;height:56.00px;box-shadow:inset 0 0 0 1px #4c4a4c;"></div>
<div style="left:294.20px;top:86.00px;width:16.00px;height:7.50px;line-height:7.50px;font-size:8.2px;color:#e8e8e8;text-align:left;"><span style="display:inline-block;transform:scaleX(0.9);transform-origin:left center">SM</span></div>
<div style="left:294.40px;top:95.50px;width:17.00px;height:2.50px;background:#236078;"></div>
<div style="left:294.40px;top:110.50px;width:17.00px;height:2.50px;background:#236078;"></div>
<div style="left:294.40px;top:126.80px;width:17.00px;height:2.50px;background:#203a66;"></div>
<div style="left:294.60px;top:98.30px;width:17.00px;height:10.30px;background:linear-gradient(90deg,#4f8c1a 0 1px,#5e9a14 1px 3px,#4f8c1a 3px 4px,#5e9a14 4px 7.5px,#3b7418 7.5px 9px,#5e9a14 9px 12px,#4f8c1a 12px 13px,#5e9a14 13px 16px,#4f8c1a 16px 17px);"></div>
<div style="left:294.60px;top:98.30px;width:17.00px;height:1.00px;background:#8a6a20;opacity:.75;"></div>
<div style="left:294.60px;top:107.60px;width:17.00px;height:1.00px;background:#8a4a20;opacity:.75;"></div>
<div style="left:294.60px;top:114.20px;width:17.00px;height:10.50px;background:linear-gradient(90deg,#4f8c1a 0 1px,#5e9a14 1px 3px,#4f8c1a 3px 4px,#5e9a14 4px 7.5px,#3b7418 7.5px 9px,#5e9a14 9px 12px,#4f8c1a 12px 13px,#5e9a14 13px 16px,#4f8c1a 16px 17px);"></div>
<div style="left:294.60px;top:114.20px;width:17.00px;height:1.00px;background:#8a6a20;opacity:.75;"></div>
<div style="left:294.60px;top:123.70px;width:17.00px;height:1.00px;background:#8a4a20;opacity:.75;"></div>
<div style="left:294.40px;top:131.00px;width:16.80px;height:7.70px;background:#eefa4e;box-shadow:inset 0 0 0 1px #f2f8a0;"></div>
<div style="left:292.10px;top:142.40px;width:21.60px;height:56.00px;box-shadow:inset 0 0 0 1px #4c4a4c;"></div>
<div style="left:294.20px;top:145.20px;width:16.00px;height:7.50px;line-height:7.50px;font-size:8.2px;color:#e8e8e8;text-align:left;"><span style="display:inline-block;transform:scaleX(0.9);transform-origin:left center">SM</span></div>
<div style="left:294.40px;top:154.00px;width:17.00px;height:2.50px;background:#236078;"></div>
<div style="left:294.40px;top:169.60px;width:17.00px;height:2.50px;background:#236078;"></div>
<div style="left:294.40px;top:185.80px;width:17.00px;height:2.50px;background:#203a66;"></div>
<div style="left:294.60px;top:156.90px;width:17.00px;height:10.30px;background:linear-gradient(90deg,#4f8c1a 0 1px,#5e9a14 1px 3px,#4f8c1a 3px 4px,#5e9a14 4px 7.5px,#3b7418 7.5px 9px,#5e9a14 9px 12px,#4f8c1a 12px 13px,#5e9a14 13px 16px,#4f8c1a 16px 17px);"></div>
<div style="left:294.60px;top:156.90px;width:17.00px;height:1.00px;background:#8a6a20;opacity:.75;"></div>
<div style="left:294.60px;top:166.20px;width:17.00px;height:1.00px;background:#8a4a20;opacity:.75;"></div>
<div style="left:294.60px;top:172.80px;width:17.00px;height:10.50px;background:linear-gradient(90deg,#4f8c1a 0 1px,#5e9a14 1px 3px,#4f8c1a 3px 4px,#5e9a14 4px 7.5px,#3b7418 7.5px 9px,#5e9a14 9px 12px,#4f8c1a 12px 13px,#5e9a14 13px 16px,#4f8c1a 16px 17px);"></div>
<div style="left:294.60px;top:172.80px;width:17.00px;height:1.00px;background:#8a6a20;opacity:.75;"></div>
<div style="left:294.60px;top:182.30px;width:17.00px;height:1.00px;background:#8a4a20;opacity:.75;"></div>
<div style="left:294.40px;top:190.00px;width:16.80px;height:7.70px;background:#eefa4e;box-shadow:inset 0 0 0 1px #f2f8a0;"></div>
<div style="left:321.70px;top:70.00px;width:1.00px;height:130.00px;background:#535158;"></div>
<div style="left:345.20px;top:70.00px;width:1.00px;height:130.00px;background:#3c3a56;"></div>
<div style="left:321.80px;top:71.40px;width:20.00px;height:8.00px;line-height:8.00px;font-size:8.4px;color:#e8e8e8;text-align:left;"><span style="display:inline-block;transform:scaleX(0.85);transform-origin:left center">TPC</span></div>
<div style="left:322.90px;top:83.20px;width:21.60px;height:56.00px;box-shadow:inset 0 0 0 1px #4c4a4c;"></div>
<div style="left:325.00px;top:86.00px;width:16.00px;height:7.50px;line-height:7.50px;font-size:8.2px;color:#e8e8e8;text-align:left;"><span style="display:inline-block;transform:scaleX(0.9);transform-origin:left center">SM</span></div>
<div style="left:325.20px;top:95.50px;width:17.00px;height:2.50px;background:#236078;"></div>
<div style="left:325.20px;top:110.50px;width:17.00px;height:2.50px;background:#236078;"></div>
<div style="left:325.20px;top:126.80px;width:17.00px;height:2.50px;background:#203a66;"></div>
<div style="left:325.40px;top:98.30px;width:17.00px;height:10.30px;background:linear-gradient(90deg,#4f8c1a 0 1px,#5e9a14 1px 3px,#4f8c1a 3px 4px,#5e9a14 4px 7.5px,#3b7418 7.5px 9px,#5e9a14 9px 12px,#4f8c1a 12px 13px,#5e9a14 13px 16px,#4f8c1a 16px 17px);"></div>
<div style="left:325.40px;top:98.30px;width:17.00px;height:1.00px;background:#8a6a20;opacity:.75;"></div>
<div style="left:325.40px;top:107.60px;width:17.00px;height:1.00px;background:#8a4a20;opacity:.75;"></div>
<div style="left:325.40px;top:114.20px;width:17.00px;height:10.50px;background:linear-gradient(90deg,#4f8c1a 0 1px,#5e9a14 1px 3px,#4f8c1a 3px 4px,#5e9a14 4px 7.5px,#3b7418 7.5px 9px,#5e9a14 9px 12px,#4f8c1a 12px 13px,#5e9a14 13px 16px,#4f8c1a 16px 17px);"></div>
<div style="left:325.40px;top:114.20px;width:17.00px;height:1.00px;background:#8a6a20;opacity:.75;"></div>
<div style="left:325.40px;top:123.70px;width:17.00px;height:1.00px;background:#8a4a20;opacity:.75;"></div>
<div style="left:325.20px;top:131.00px;width:16.80px;height:7.70px;background:#eefa4e;box-shadow:inset 0 0 0 1px #f2f8a0;"></div>
<div style="left:322.90px;top:142.40px;width:21.60px;height:56.00px;box-shadow:inset 0 0 0 1px #4c4a4c;"></div>
<div style="left:325.00px;top:145.20px;width:16.00px;height:7.50px;line-height:7.50px;font-size:8.2px;color:#e8e8e8;text-align:left;"><span style="display:inline-block;transform:scaleX(0.9);transform-origin:left center">SM</span></div>
<div style="left:325.20px;top:154.00px;width:17.00px;height:2.50px;background:#236078;"></div>
<div style="left:325.20px;top:169.60px;width:17.00px;height:2.50px;background:#236078;"></div>
<div style="left:325.20px;top:185.80px;width:17.00px;height:2.50px;background:#203a66;"></div>
<div style="left:325.40px;top:156.90px;width:17.00px;height:10.30px;background:linear-gradient(90deg,#4f8c1a 0 1px,#5e9a14 1px 3px,#4f8c1a 3px 4px,#5e9a14 4px 7.5px,#3b7418 7.5px 9px,#5e9a14 9px 12px,#4f8c1a 12px 13px,#5e9a14 13px 16px,#4f8c1a 16px 17px);"></div>
<div style="left:325.40px;top:156.90px;width:17.00px;height:1.00px;background:#8a6a20;opacity:.75;"></div>
<div style="left:325.40px;top:166.20px;width:17.00px;height:1.00px;background:#8a4a20;opacity:.75;"></div>
<div style="left:325.40px;top:172.80px;width:17.00px;height:10.50px;background:linear-gradient(90deg,#4f8c1a 0 1px,#5e9a14 1px 3px,#4f8c1a 3px 4px,#5e9a14 4px 7.5px,#3b7418 7.5px 9px,#5e9a14 9px 12px,#4f8c1a 12px 13px,#5e9a14 13px 16px,#4f8c1a 16px 17px);"></div>
<div style="left:325.40px;top:172.80px;width:17.00px;height:1.00px;background:#8a6a20;opacity:.75;"></div>
<div style="left:325.40px;top:182.30px;width:17.00px;height:1.00px;background:#8a4a20;opacity:.75;"></div>
<div style="left:325.20px;top:190.00px;width:16.80px;height:7.70px;background:#eefa4e;box-shadow:inset 0 0 0 1px #f2f8a0;"></div>
<div style="left:352.50px;top:70.00px;width:1.00px;height:130.00px;background:#535158;"></div>
<div style="left:376.00px;top:70.00px;width:1.00px;height:130.00px;background:#3c3a56;"></div>
<div style="left:352.60px;top:71.40px;width:20.00px;height:8.00px;line-height:8.00px;font-size:8.4px;color:#e8e8e8;text-align:left;"><span style="display:inline-block;transform:scaleX(0.85);transform-origin:left center">TPC</span></div>
<div style="left:353.70px;top:83.20px;width:21.60px;height:56.00px;box-shadow:inset 0 0 0 1px #4c4a4c;"></div>
<div style="left:355.80px;top:86.00px;width:16.00px;height:7.50px;line-height:7.50px;font-size:8.2px;color:#e8e8e8;text-align:left;"><span style="display:inline-block;transform:scaleX(0.9);transform-origin:left center">SM</span></div>
<div style="left:356.00px;top:95.50px;width:17.00px;height:2.50px;background:#236078;"></div>
<div style="left:356.00px;top:110.50px;width:17.00px;height:2.50px;background:#236078;"></div>
<div style="left:356.00px;top:126.80px;width:17.00px;height:2.50px;background:#203a66;"></div>
<div style="left:356.20px;top:98.30px;width:17.00px;height:10.30px;background:linear-gradient(90deg,#4f8c1a 0 1px,#5e9a14 1px 3px,#4f8c1a 3px 4px,#5e9a14 4px 7.5px,#3b7418 7.5px 9px,#5e9a14 9px 12px,#4f8c1a 12px 13px,#5e9a14 13px 16px,#4f8c1a 16px 17px);"></div>
<div style="left:356.20px;top:98.30px;width:17.00px;height:1.00px;background:#8a6a20;opacity:.75;"></div>
<div style="left:356.20px;top:107.60px;width:17.00px;height:1.00px;background:#8a4a20;opacity:.75;"></div>
<div style="left:356.20px;top:114.20px;width:17.00px;height:10.50px;background:linear-gradient(90deg,#4f8c1a 0 1px,#5e9a14 1px 3px,#4f8c1a 3px 4px,#5e9a14 4px 7.5px,#3b7418 7.5px 9px,#5e9a14 9px 12px,#4f8c1a 12px 13px,#5e9a14 13px 16px,#4f8c1a 16px 17px);"></div>
<div style="left:356.20px;top:114.20px;width:17.00px;height:1.00px;background:#8a6a20;opacity:.75;"></div>
<div style="left:356.20px;top:123.70px;width:17.00px;height:1.00px;background:#8a4a20;opacity:.75;"></div>
<div style="left:356.00px;top:131.00px;width:16.80px;height:7.70px;background:#eefa4e;box-shadow:inset 0 0 0 1px #f2f8a0;"></div>
<div style="left:353.70px;top:142.40px;width:21.60px;height:56.00px;box-shadow:inset 0 0 0 1px #4c4a4c;"></div>
<div style="left:355.80px;top:145.20px;width:16.00px;height:7.50px;line-height:7.50px;font-size:8.2px;color:#e8e8e8;text-align:left;"><span style="display:inline-block;transform:scaleX(0.9);transform-origin:left center">SM</span></div>
<div style="left:356.00px;top:154.00px;width:17.00px;height:2.50px;background:#236078;"></div>
<div style="left:356.00px;top:169.60px;width:17.00px;height:2.50px;background:#236078;"></div>
<div style="left:356.00px;top:185.80px;width:17.00px;height:2.50px;background:#203a66;"></div>
<div style="left:356.20px;top:156.90px;width:17.00px;height:10.30px;background:linear-gradient(90deg,#4f8c1a 0 1px,#5e9a14 1px 3px,#4f8c1a 3px 4px,#5e9a14 4px 7.5px,#3b7418 7.5px 9px,#5e9a14 9px 12px,#4f8c1a 12px 13px,#5e9a14 13px 16px,#4f8c1a 16px 17px);"></div>
<div style="left:356.20px;top:156.90px;width:17.00px;height:1.00px;background:#8a6a20;opacity:.75;"></div>
<div style="left:356.20px;top:166.20px;width:17.00px;height:1.00px;background:#8a4a20;opacity:.75;"></div>
<div style="left:356.20px;top:172.80px;width:17.00px;height:10.50px;background:linear-gradient(90deg,#4f8c1a 0 1px,#5e9a14 1px 3px,#4f8c1a 3px 4px,#5e9a14 4px 7.5px,#3b7418 7.5px 9px,#5e9a14 9px 12px,#4f8c1a 12px 13px,#5e9a14 13px 16px,#4f8c1a 16px 17px);"></div>
<div style="left:356.20px;top:172.80px;width:17.00px;height:1.00px;background:#8a6a20;opacity:.75;"></div>
<div style="left:356.20px;top:182.30px;width:17.00px;height:1.00px;background:#8a4a20;opacity:.75;"></div>
<div style="left:356.00px;top:190.00px;width:16.80px;height:7.70px;background:#eefa4e;box-shadow:inset 0 0 0 1px #f2f8a0;"></div>
<div style="left:383.30px;top:70.00px;width:1.00px;height:130.00px;background:#535158;"></div>
<div style="left:406.80px;top:70.00px;width:1.00px;height:130.00px;background:#3c3a56;"></div>
<div style="left:383.40px;top:71.40px;width:20.00px;height:8.00px;line-height:8.00px;font-size:8.4px;color:#e8e8e8;text-align:left;"><span style="display:inline-block;transform:scaleX(0.85);transform-origin:left center">TPC</span></div>
<div style="left:384.50px;top:83.20px;width:21.60px;height:56.00px;box-shadow:inset 0 0 0 1px #4c4a4c;"></div>
<div style="left:386.60px;top:86.00px;width:16.00px;height:7.50px;line-height:7.50px;font-size:8.2px;color:#e8e8e8;text-align:left;"><span style="display:inline-block;transform:scaleX(0.9);transform-origin:left center">SM</span></div>
<div style="left:386.80px;top:95.50px;width:17.00px;height:2.50px;background:#236078;"></div>
<div style="left:386.80px;top:110.50px;width:17.00px;height:2.50px;background:#236078;"></div>
<div style="left:386.80px;top:126.80px;width:17.00px;height:2.50px;background:#203a66;"></div>
<div style="left:387.00px;top:98.30px;width:17.00px;height:10.30px;background:linear-gradient(90deg,#4f8c1a 0 1px,#5e9a14 1px 3px,#4f8c1a 3px 4px,#5e9a14 4px 7.5px,#3b7418 7.5px 9px,#5e9a14 9px 12px,#4f8c1a 12px 13px,#5e9a14 13px 16px,#4f8c1a 16px 17px);"></div>
<div style="left:387.00px;top:98.30px;width:17.00px;height:1.00px;background:#8a6a20;opacity:.75;"></div>
<div style="left:387.00px;top:107.60px;width:17.00px;height:1.00px;background:#8a4a20;opacity:.75;"></div>
<div style="left:387.00px;top:114.20px;width:17.00px;height:10.50px;background:linear-gradient(90deg,#4f8c1a 0 1px,#5e9a14 1px 3px,#4f8c1a 3px 4px,#5e9a14 4px 7.5px,#3b7418 7.5px 9px,#5e9a14 9px 12px,#4f8c1a 12px 13px,#5e9a14 13px 16px,#4f8c1a 16px 17px);"></div>
<div style="left:387.00px;top:114.20px;width:17.00px;height:1.00px;background:#8a6a20;opacity:.75;"></div>
<div style="left:387.00px;top:123.70px;width:17.00px;height:1.00px;background:#8a4a20;opacity:.75;"></div>
<div style="left:386.80px;top:131.00px;width:16.80px;height:7.70px;background:#eefa4e;box-shadow:inset 0 0 0 1px #f2f8a0;"></div>
<div style="left:384.50px;top:142.40px;width:21.60px;height:56.00px;box-shadow:inset 0 0 0 1px #4c4a4c;"></div>
<div style="left:386.60px;top:145.20px;width:16.00px;height:7.50px;line-height:7.50px;font-size:8.2px;color:#e8e8e8;text-align:left;"><span style="display:inline-block;transform:scaleX(0.9);transform-origin:left center">SM</span></div>
<div style="left:386.80px;top:154.00px;width:17.00px;height:2.50px;background:#236078;"></div>
<div style="left:386.80px;top:169.60px;width:17.00px;height:2.50px;background:#236078;"></div>
<div style="left:386.80px;top:185.80px;width:17.00px;height:2.50px;background:#203a66;"></div>
<div style="left:387.00px;top:156.90px;width:17.00px;height:10.30px;background:linear-gradient(90deg,#4f8c1a 0 1px,#5e9a14 1px 3px,#4f8c1a 3px 4px,#5e9a14 4px 7.5px,#3b7418 7.5px 9px,#5e9a14 9px 12px,#4f8c1a 12px 13px,#5e9a14 13px 16px,#4f8c1a 16px 17px);"></div>
<div style="left:387.00px;top:156.90px;width:17.00px;height:1.00px;background:#8a6a20;opacity:.75;"></div>
<div style="left:387.00px;top:166.20px;width:17.00px;height:1.00px;background:#8a4a20;opacity:.75;"></div>
<div style="left:387.00px;top:172.80px;width:17.00px;height:10.50px;background:linear-gradient(90deg,#4f8c1a 0 1px,#5e9a14 1px 3px,#4f8c1a 3px 4px,#5e9a14 4px 7.5px,#3b7418 7.5px 9px,#5e9a14 9px 12px,#4f8c1a 12px 13px,#5e9a14 13px 16px,#4f8c1a 16px 17px);"></div>
<div style="left:387.00px;top:172.80px;width:17.00px;height:1.00px;background:#8a6a20;opacity:.75;"></div>
<div style="left:387.00px;top:182.30px;width:17.00px;height:1.00px;background:#8a4a20;opacity:.75;"></div>
<div style="left:386.80px;top:190.00px;width:16.80px;height:7.70px;background:#eefa4e;box-shadow:inset 0 0 0 1px #f2f8a0;"></div>
<div style="left:224.10px;top:200.00px;width:188.10px;height:15.50px;background:#3f4542;"></div>
<div style="left:225.60px;top:201.20px;width:185.10px;height:1.00px;background:#4a3a58;"></div>
<div style="left:225.90px;top:204.20px;width:88.00px;height:3.60px;background:#2a5a74;"></div>
<div style="left:321.10px;top:204.20px;width:87.10px;height:3.60px;background:#2a5a74;"></div>
<div style="left:416.40px;top:47.00px;width:191.60px;height:169.80px;background:#464144;box-shadow:inset 0 0 0 1px #a8a5a2;"></div>
<div style="left:419.40px;top:48.60px;width:30.00px;height:7.50px;line-height:7.50px;font-size:8.4px;color:#ececec;text-align:left;"><span style="display:inline-block;transform:scaleX(0.82);transform-origin:left center">GPC</span></div>
<div style="left:419.00px;top:57.00px;width:184.00px;height:10.50px;background:#1f5a6a;box-shadow:inset 0 0 0 1px #173a44;"></div>
<div style="left:419.80px;top:58.00px;width:3.20px;height:8.50px;background:#1c4550;"></div>
<div style="left:419.00px;top:57.30px;width:184.00px;height:10.50px;line-height:10.50px;font-size:8.6px;color:#86cde4;text-align:center;"><span style="display:inline-block;transform:scaleX(0.855);transform-origin:center center">Raster Engine</span></div>
<div style="left:419.40px;top:97.80px;width:185.60px;height:1.20px;background:#5a3550;opacity:.7;"></div>
<div style="left:419.40px;top:108.10px;width:185.60px;height:1.20px;background:#5a3550;opacity:.7;"></div>
<div style="left:419.40px;top:113.70px;width:185.60px;height:1.20px;background:#5a3550;opacity:.7;"></div>
<div style="left:419.40px;top:124.20px;width:185.60px;height:1.20px;background:#5a3550;opacity:.7;"></div>
<div style="left:419.40px;top:156.40px;width:185.60px;height:1.20px;background:#5a3550;opacity:.7;"></div>
<div style="left:419.40px;top:166.70px;width:185.60px;height:1.20px;background:#5a3550;opacity:.7;"></div>
<div style="left:419.40px;top:172.30px;width:185.60px;height:1.20px;background:#5a3550;opacity:.7;"></div>
<div style="left:419.40px;top:182.80px;width:185.60px;height:1.20px;background:#5a3550;opacity:.7;"></div>
<div style="left:422.40px;top:70.00px;width:1.00px;height:130.00px;background:#535158;"></div>
<div style="left:445.90px;top:70.00px;width:1.00px;height:130.00px;background:#3c3a56;"></div>
<div style="left:422.50px;top:71.40px;width:20.00px;height:8.00px;line-height:8.00px;font-size:8.4px;color:#e8e8e8;text-align:left;"><span style="display:inline-block;transform:scaleX(0.85);transform-origin:left center">TPC</span></div>
<div style="left:423.60px;top:83.20px;width:21.60px;height:56.00px;box-shadow:inset 0 0 0 1px #4c4a4c;"></div>
<div style="left:425.70px;top:86.00px;width:16.00px;height:7.50px;line-height:7.50px;font-size:8.2px;color:#e8e8e8;text-align:left;"><span style="display:inline-block;transform:scaleX(0.9);transform-origin:left center">SM</span></div>
<div style="left:425.90px;top:95.50px;width:17.00px;height:2.50px;background:#236078;"></div>
<div style="left:425.90px;top:110.50px;width:17.00px;height:2.50px;background:#236078;"></div>
<div style="left:425.90px;top:126.80px;width:17.00px;height:2.50px;background:#203a66;"></div>
<div style="left:426.10px;top:98.30px;width:17.00px;height:10.30px;background:linear-gradient(90deg,#4f8c1a 0 1px,#5e9a14 1px 3px,#4f8c1a 3px 4px,#5e9a14 4px 7.5px,#3b7418 7.5px 9px,#5e9a14 9px 12px,#4f8c1a 12px 13px,#5e9a14 13px 16px,#4f8c1a 16px 17px);"></div>
<div style="left:426.10px;top:98.30px;width:17.00px;height:1.00px;background:#8a6a20;opacity:.75;"></div>
<div style="left:426.10px;top:107.60px;width:17.00px;height:1.00px;background:#8a4a20;opacity:.75;"></div>
<div style="left:426.10px;top:114.20px;width:17.00px;height:10.50px;background:linear-gradient(90deg,#4f8c1a 0 1px,#5e9a14 1px 3px,#4f8c1a 3px 4px,#5e9a14 4px 7.5px,#3b7418 7.5px 9px,#5e9a14 9px 12px,#4f8c1a 12px 13px,#5e9a14 13px 16px,#4f8c1a 16px 17px);"></div>
<div style="left:426.10px;top:114.20px;width:17.00px;height:1.00px;background:#8a6a20;opacity:.75;"></div>
<div style="left:426.10px;top:123.70px;width:17.00px;height:1.00px;background:#8a4a20;opacity:.75;"></div>
<div style="left:425.90px;top:131.00px;width:16.80px;height:7.70px;background:#eefa4e;box-shadow:inset 0 0 0 1px #f2f8a0;"></div>
<div style="left:423.60px;top:142.40px;width:21.60px;height:56.00px;box-shadow:inset 0 0 0 1px #4c4a4c;"></div>
<div style="left:425.70px;top:145.20px;width:16.00px;height:7.50px;line-height:7.50px;font-size:8.2px;color:#e8e8e8;text-align:left;"><span style="display:inline-block;transform:scaleX(0.9);transform-origin:left center">SM</span></div>
<div style="left:425.90px;top:154.00px;width:17.00px;height:2.50px;background:#236078;"></div>
<div style="left:425.90px;top:169.60px;width:17.00px;height:2.50px;background:#236078;"></div>
<div style="left:425.90px;top:185.80px;width:17.00px;height:2.50px;background:#203a66;"></div>
<div style="left:426.10px;top:156.90px;width:17.00px;height:10.30px;background:linear-gradient(90deg,#4f8c1a 0 1px,#5e9a14 1px 3px,#4f8c1a 3px 4px,#5e9a14 4px 7.5px,#3b7418 7.5px 9px,#5e9a14 9px 12px,#4f8c1a 12px 13px,#5e9a14 13px 16px,#4f8c1a 16px 17px);"></div>
<div style="left:426.10px;top:156.90px;width:17.00px;height:1.00px;background:#8a6a20;opacity:.75;"></div>
<div style="left:426.10px;top:166.20px;width:17.00px;height:1.00px;background:#8a4a20;opacity:.75;"></div>
<div style="left:426.10px;top:172.80px;width:17.00px;height:10.50px;background:linear-gradient(90deg,#4f8c1a 0 1px,#5e9a14 1px 3px,#4f8c1a 3px 4px,#5e9a14 4px 7.5px,#3b7418 7.5px 9px,#5e9a14 9px 12px,#4f8c1a 12px 13px,#5e9a14 13px 16px,#4f8c1a 16px 17px);"></div>
<div style="left:426.10px;top:172.80px;width:17.00px;height:1.00px;background:#8a6a20;opacity:.75;"></div>
<div style="left:426.10px;top:182.30px;width:17.00px;height:1.00px;background:#8a4a20;opacity:.75;"></div>
<div style="left:425.90px;top:190.00px;width:16.80px;height:7.70px;background:#eefa4e;box-shadow:inset 0 0 0 1px #f2f8a0;"></div>
<div style="left:453.20px;top:70.00px;width:1.00px;height:130.00px;background:#535158;"></div>
<div style="left:476.70px;top:70.00px;width:1.00px;height:130.00px;background:#3c3a56;"></div>
<div style="left:453.30px;top:71.40px;width:20.00px;height:8.00px;line-height:8.00px;font-size:8.4px;color:#e8e8e8;text-align:left;"><span style="display:inline-block;transform:scaleX(0.85);transform-origin:left center">TPC</span></div>
<div style="left:454.40px;top:83.20px;width:21.60px;height:56.00px;box-shadow:inset 0 0 0 1px #4c4a4c;"></div>
<div style="left:456.50px;top:86.00px;width:16.00px;height:7.50px;line-height:7.50px;font-size:8.2px;color:#e8e8e8;text-align:left;"><span style="display:inline-block;transform:scaleX(0.9);transform-origin:left center">SM</span></div>
<div style="left:456.70px;top:95.50px;width:17.00px;height:2.50px;background:#236078;"></div>
<div style="left:456.70px;top:110.50px;width:17.00px;height:2.50px;background:#236078;"></div>
<div style="left:456.70px;top:126.80px;width:17.00px;height:2.50px;background:#203a66;"></div>
<div style="left:456.90px;top:98.30px;width:17.00px;height:10.30px;background:linear-gradient(90deg,#4f8c1a 0 1px,#5e9a14 1px 3px,#4f8c1a 3px 4px,#5e9a14 4px 7.5px,#3b7418 7.5px 9px,#5e9a14 9px 12px,#4f8c1a 12px 13px,#5e9a14 13px 16px,#4f8c1a 16px 17px);"></div>
<div style="left:456.90px;top:98.30px;width:17.00px;height:1.00px;background:#8a6a20;opacity:.75;"></div>
<div style="left:456.90px;top:107.60px;width:17.00px;height:1.00px;background:#8a4a20;opacity:.75;"></div>
<div style="left:456.90px;top:114.20px;width:17.00px;height:10.50px;background:linear-gradient(90deg,#4f8c1a 0 1px,#5e9a14 1px 3px,#4f8c1a 3px 4px,#5e9a14 4px 7.5px,#3b7418 7.5px 9px,#5e9a14 9px 12px,#4f8c1a 12px 13px,#5e9a14 13px 16px,#4f8c1a 16px 17px);"></div>
<div style="left:456.90px;top:114.20px;width:17.00px;height:1.00px;background:#8a6a20;opacity:.75;"></div>
<div style="left:456.90px;top:123.70px;width:17.00px;height:1.00px;background:#8a4a20;opacity:.75;"></div>
<div style="left:456.70px;top:131.00px;width:16.80px;height:7.70px;background:#eefa4e;box-shadow:inset 0 0 0 1px #f2f8a0;"></div>
<div style="left:454.40px;top:142.40px;width:21.60px;height:56.00px;box-shadow:inset 0 0 0 1px #4c4a4c;"></div>
<div style="left:456.50px;top:145.20px;width:16.00px;height:7.50px;line-height:7.50px;font-size:8.2px;color:#e8e8e8;text-align:left;"><span style="display:inline-block;transform:scaleX(0.9);transform-origin:left center">SM</span></div>
<div style="left:456.70px;top:154.00px;width:17.00px;height:2.50px;background:#236078;"></div>
<div style="left:456.70px;top:169.60px;width:17.00px;height:2.50px;background:#236078;"></div>
<div style="left:456.70px;top:185.80px;width:17.00px;height:2.50px;background:#203a66;"></div>
<div style="left:456.90px;top:156.90px;width:17.00px;height:10.30px;background:linear-gradient(90deg,#4f8c1a 0 1px,#5e9a14 1px 3px,#4f8c1a 3px 4px,#5e9a14 4px 7.5px,#3b7418 7.5px 9px,#5e9a14 9px 12px,#4f8c1a 12px 13px,#5e9a14 13px 16px,#4f8c1a 16px 17px);"></div>
<div style="left:456.90px;top:156.90px;width:17.00px;height:1.00px;background:#8a6a20;opacity:.75;"></div>
<div style="left:456.90px;top:166.20px;width:17.00px;height:1.00px;background:#8a4a20;opacity:.75;"></div>
<div style="left:456.90px;top:172.80px;width:17.00px;height:10.50px;background:linear-gradient(90deg,#4f8c1a 0 1px,#5e9a14 1px 3px,#4f8c1a 3px 4px,#5e9a14 4px 7.5px,#3b7418 7.5px 9px,#5e9a14 9px 12px,#4f8c1a 12px 13px,#5e9a14 13px 16px,#4f8c1a 16px 17px);"></div>
<div style="left:456.90px;top:172.80px;width:17.00px;height:1.00px;background:#8a6a20;opacity:.75;"></div>
<div style="left:456.90px;top:182.30px;width:17.00px;height:1.00px;background:#8a4a20;opacity:.75;"></div>
<div style="left:456.70px;top:190.00px;width:16.80px;height:7.70px;background:#eefa4e;box-shadow:inset 0 0 0 1px #f2f8a0;"></div>
<div style="left:484.00px;top:70.00px;width:1.00px;height:130.00px;background:#535158;"></div>
<div style="left:507.50px;top:70.00px;width:1.00px;height:130.00px;background:#3c3a56;"></div>
<div style="left:484.10px;top:71.40px;width:20.00px;height:8.00px;line-height:8.00px;font-size:8.4px;color:#e8e8e8;text-align:left;"><span style="display:inline-block;transform:scaleX(0.85);transform-origin:left center">TPC</span></div>
<div style="left:485.20px;top:83.20px;width:21.60px;height:56.00px;box-shadow:inset 0 0 0 1px #4c4a4c;"></div>
<div style="left:487.30px;top:86.00px;width:16.00px;height:7.50px;line-height:7.50px;font-size:8.2px;color:#e8e8e8;text-align:left;"><span style="display:inline-block;transform:scaleX(0.9);transform-origin:left center">SM</span></div>
<div style="left:487.50px;top:95.50px;width:17.00px;height:2.50px;background:#236078;"></div>
<div style="left:487.50px;top:110.50px;width:17.00px;height:2.50px;background:#236078;"></div>
<div style="left:487.50px;top:126.80px;width:17.00px;height:2.50px;background:#203a66;"></div>
<div style="left:487.70px;top:98.30px;width:17.00px;height:10.30px;background:linear-gradient(90deg,#4f8c1a 0 1px,#5e9a14 1px 3px,#4f8c1a 3px 4px,#5e9a14 4px 7.5px,#3b7418 7.5px 9px,#5e9a14 9px 12px,#4f8c1a 12px 13px,#5e9a14 13px 16px,#4f8c1a 16px 17px);"></div>
<div style="left:487.70px;top:98.30px;width:17.00px;height:1.00px;background:#8a6a20;opacity:.75;"></div>
<div style="left:487.70px;top:107.60px;width:17.00px;height:1.00px;background:#8a4a20;opacity:.75;"></div>
<div style="left:487.70px;top:114.20px;width:17.00px;height:10.50px;background:linear-gradient(90deg,#4f8c1a 0 1px,#5e9a14 1px 3px,#4f8c1a 3px 4px,#5e9a14 4px 7.5px,#3b7418 7.5px 9px,#5e9a14 9px 12px,#4f8c1a 12px 13px,#5e9a14 13px 16px,#4f8c1a 16px 17px);"></div>
<div style="left:487.70px;top:114.20px;width:17.00px;height:1.00px;background:#8a6a20;opacity:.75;"></div>
<div style="left:487.70px;top:123.70px;width:17.00px;height:1.00px;background:#8a4a20;opacity:.75;"></div>
<div style="left:487.50px;top:131.00px;width:16.80px;height:7.70px;background:#eefa4e;box-shadow:inset 0 0 0 1px #f2f8a0;"></div>
<div style="left:485.20px;top:142.40px;width:21.60px;height:56.00px;box-shadow:inset 0 0 0 1px #4c4a4c;"></div>
<div style="left:487.30px;top:145.20px;width:16.00px;height:7.50px;line-height:7.50px;font-size:8.2px;color:#e8e8e8;text-align:left;"><span style="display:inline-block;transform:scaleX(0.9);transform-origin:left center">SM</span></div>
<div style="left:487.50px;top:154.00px;width:17.00px;height:2.50px;background:#236078;"></div>
<div style="left:487.50px;top:169.60px;width:17.00px;height:2.50px;background:#236078;"></div>
<div style="left:487.50px;top:185.80px;width:17.00px;height:2.50px;background:#203a66;"></div>
<div style="left:487.70px;top:156.90px;width:17.00px;height:10.30px;background:linear-gradient(90deg,#4f8c1a 0 1px,#5e9a14 1px 3px,#4f8c1a 3px 4px,#5e9a14 4px 7.5px,#3b7418 7.5px 9px,#5e9a14 9px 12px,#4f8c1a 12px 13px,#5e9a14 13px 16px,#4f8c1a 16px 17px);"></div>
<div style="left:487.70px;top:156.90px;width:17.00px;height:1.00px;background:#8a6a20;opacity:.75;"></div>
<div style="left:487.70px;top:166.20px;width:17.00px;height:1.00px;background:#8a4a20;opacity:.75;"></div>
<div style="left:487.70px;top:172.80px;width:17.00px;height:10.50px;background:linear-gradient(90deg,#4f8c1a 0 1px,#5e9a14 1px 3px,#4f8c1a 3px 4px,#5e9a14 4px 7.5px,#3b7418 7.5px 9px,#5e9a14 9px 12px,#4f8c1a 12px 13px,#5e9a14 13px 16px,#4f8c1a 16px 17px);"></div>
<div style="left:487.70px;top:172.80px;width:17.00px;height:1.00px;background:#8a6a20;opacity:.75;"></div>
<div style="left:487.70px;top:182.30px;width:17.00px;height:1.00px;background:#8a4a20;opacity:.75;"></div>
<div style="left:487.50px;top:190.00px;width:16.80px;height:7.70px;background:#eefa4e;box-shadow:inset 0 0 0 1px #f2f8a0;"></div>
<div style="left:514.80px;top:70.00px;width:1.00px;height:130.00px;background:#535158;"></div>
<div style="left:538.30px;top:70.00px;width:1.00px;height:130.00px;background:#3c3a56;"></div>
<div style="left:514.90px;top:71.40px;width:20.00px;height:8.00px;line-height:8.00px;font-size:8.4px;color:#e8e8e8;text-align:left;"><span style="display:inline-block;transform:scaleX(0.85);transform-origin:left center">TPC</span></div>
<div style="left:516.00px;top:83.20px;width:21.60px;height:56.00px;box-shadow:inset 0 0 0 1px #4c4a4c;"></div>
<div style="left:518.10px;top:86.00px;width:16.00px;height:7.50px;line-height:7.50px;font-size:8.2px;color:#e8e8e8;text-align:left;"><span style="display:inline-block;transform:scaleX(0.9);transform-origin:left center">SM</span></div>
<div style="left:518.30px;top:95.50px;width:17.00px;height:2.50px;background:#236078;"></div>
<div style="left:518.30px;top:110.50px;width:17.00px;height:2.50px;background:#236078;"></div>
<div style="left:518.30px;top:126.80px;width:17.00px;height:2.50px;background:#203a66;"></div>
<div style="left:518.50px;top:98.30px;width:17.00px;height:10.30px;background:linear-gradient(90deg,#4f8c1a 0 1px,#5e9a14 1px 3px,#4f8c1a 3px 4px,#5e9a14 4px 7.5px,#3b7418 7.5px 9px,#5e9a14 9px 12px,#4f8c1a 12px 13px,#5e9a14 13px 16px,#4f8c1a 16px 17px);"></div>
<div style="left:518.50px;top:98.30px;width:17.00px;height:1.00px;background:#8a6a20;opacity:.75;"></div>
<div style="left:518.50px;top:107.60px;width:17.00px;height:1.00px;background:#8a4a20;opacity:.75;"></div>
<div style="left:518.50px;top:114.20px;width:17.00px;height:10.50px;background:linear-gradient(90deg,#4f8c1a 0 1px,#5e9a14 1px 3px,#4f8c1a 3px 4px,#5e9a14 4px 7.5px,#3b7418 7.5px 9px,#5e9a14 9px 12px,#4f8c1a 12px 13px,#5e9a14 13px 16px,#4f8c1a 16px 17px);"></div>
<div style="left:518.50px;top:114.20px;width:17.00px;height:1.00px;background:#8a6a20;opacity:.75;"></div>
<div style="left:518.50px;top:123.70px;width:17.00px;height:1.00px;background:#8a4a20;opacity:.75;"></div>
<div style="left:518.30px;top:131.00px;width:16.80px;height:7.70px;background:#eefa4e;box-shadow:inset 0 0 0 1px #f2f8a0;"></div>
<div style="left:516.00px;top:142.40px;width:21.60px;height:56.00px;box-shadow:inset 0 0 0 1px #4c4a4c;"></div>
<div style="left:518.10px;top:145.20px;width:16.00px;height:7.50px;line-height:7.50px;font-size:8.2px;color:#e8e8e8;text-align:left;"><span style="display:inline-block;transform:scaleX(0.9);transform-origin:left center">SM</span></div>
<div style="left:518.30px;top:154.00px;width:17.00px;height:2.50px;background:#236078;"></div>
<div style="left:518.30px;top:169.60px;width:17.00px;height:2.50px;background:#236078;"></div>
<div style="left:518.30px;top:185.80px;width:17.00px;height:2.50px;background:#203a66;"></div>
<div style="left:518.50px;top:156.90px;width:17.00px;height:10.30px;background:linear-gradient(90deg,#4f8c1a 0 1px,#5e9a14 1px 3px,#4f8c1a 3px 4px,#5e9a14 4px 7.5px,#3b7418 7.5px 9px,#5e9a14 9px 12px,#4f8c1a 12px 13px,#5e9a14 13px 16px,#4f8c1a 16px 17px);"></div>
<div style="left:518.50px;top:156.90px;width:17.00px;height:1.00px;background:#8a6a20;opacity:.75;"></div>
<div style="left:518.50px;top:166.20px;width:17.00px;height:1.00px;background:#8a4a20;opacity:.75;"></div>
<div style="left:518.50px;top:172.80px;width:17.00px;height:10.50px;background:linear-gradient(90deg,#4f8c1a 0 1px,#5e9a14 1px 3px,#4f8c1a 3px 4px,#5e9a14 4px 7.5px,#3b7418 7.5px 9px,#5e9a14 9px 12px,#4f8c1a 12px 13px,#5e9a14 13px 16px,#4f8c1a 16px 17px);"></div>
<div style="left:518.50px;top:172.80px;width:17.00px;height:1.00px;background:#8a6a20;opacity:.75;"></div>
<div style="left:518.50px;top:182.30px;width:17.00px;height:1.00px;background:#8a4a20;opacity:.75;"></div>
<div style="left:518.30px;top:190.00px;width:16.80px;height:7.70px;background:#eefa4e;box-shadow:inset 0 0 0 1px #f2f8a0;"></div>
<div style="left:545.60px;top:70.00px;width:1.00px;height:130.00px;background:#535158;"></div>
<div style="left:569.10px;top:70.00px;width:1.00px;height:130.00px;background:#3c3a56;"></div>
<div style="left:545.70px;top:71.40px;width:20.00px;height:8.00px;line-height:8.00px;font-size:8.4px;color:#e8e8e8;text-align:left;"><span style="display:inline-block;transform:scaleX(0.85);transform-origin:left center">TPC</span></div>
<div style="left:546.80px;top:83.20px;width:21.60px;height:56.00px;box-shadow:inset 0 0 0 1px #4c4a4c;"></div>
<div style="left:548.90px;top:86.00px;width:16.00px;height:7.50px;line-height:7.50px;font-size:8.2px;color:#e8e8e8;text-align:left;"><span style="display:inline-block;transform:scaleX(0.9);transform-origin:left center">SM</span></div>
<div style="left:549.10px;top:95.50px;width:17.00px;height:2.50px;background:#236078;"></div>
<div style="left:549.10px;top:110.50px;width:17.00px;height:2.50px;background:#236078;"></div>
<div style="left:549.10px;top:126.80px;width:17.00px;height:2.50px;background:#203a66;"></div>
<div style="left:549.30px;top:98.30px;width:17.00px;height:10.30px;background:linear-gradient(90deg,#4f8c1a 0 1px,#5e9a14 1px 3px,#4f8c1a 3px 4px,#5e9a14 4px 7.5px,#3b7418 7.5px 9px,#5e9a14 9px 12px,#4f8c1a 12px 13px,#5e9a14 13px 16px,#4f8c1a 16px 17px);"></div>
<div style="left:549.30px;top:98.30px;width:17.00px;height:1.00px;background:#8a6a20;opacity:.75;"></div>
<div style="left:549.30px;top:107.60px;width:17.00px;height:1.00px;background:#8a4a20;opacity:.75;"></div>
<div style="left:549.30px;top:114.20px;width:17.00px;height:10.50px;background:linear-gradient(90deg,#4f8c1a 0 1px,#5e9a14 1px 3px,#4f8c1a 3px 4px,#5e9a14 4px 7.5px,#3b7418 7.5px 9px,#5e9a14 9px 12px,#4f8c1a 12px 13px,#5e9a14 13px 16px,#4f8c1a 16px 17px);"></div>
<div style="left:549.30px;top:114.20px;width:17.00px;height:1.00px;background:#8a6a20;opacity:.75;"></div>
<div style="left:549.30px;top:123.70px;width:17.00px;height:1.00px;background:#8a4a20;opacity:.75;"></div>
<div style="left:549.10px;top:131.00px;width:16.80px;height:7.70px;background:#eefa4e;box-shadow:inset 0 0 0 1px #f2f8a0;"></div>
<div style="left:546.80px;top:142.40px;width:21.60px;height:56.00px;box-shadow:inset 0 0 0 1px #4c4a4c;"></div>
<div style="left:548.90px;top:145.20px;width:16.00px;height:7.50px;line-height:7.50px;font-size:8.2px;color:#e8e8e8;text-align:left;"><span style="display:inline-block;transform:scaleX(0.9);transform-origin:left center">SM</span></div>
<div style="left:549.10px;top:154.00px;width:17.00px;height:2.50px;background:#236078;"></div>
<div style="left:549.10px;top:169.60px;width:17.00px;height:2.50px;background:#236078;"></div>
<div style="left:549.10px;top:185.80px;width:17.00px;height:2.50px;background:#203a66;"></div>
<div style="left:549.30px;top:156.90px;width:17.00px;height:10.30px;background:linear-gradient(90deg,#4f8c1a 0 1px,#5e9a14 1px 3px,#4f8c1a 3px 4px,#5e9a14 4px 7.5px,#3b7418 7.5px 9px,#5e9a14 9px 12px,#4f8c1a 12px 13px,#5e9a14 13px 16px,#4f8c1a 16px 17px);"></div>
<div style="left:549.30px;top:156.90px;width:17.00px;height:1.00px;background:#8a6a20;opacity:.75;"></div>
<div style="left:549.30px;top:166.20px;width:17.00px;height:1.00px;background:#8a4a20;opacity:.75;"></div>
<div style="left:549.30px;top:172.80px;width:17.00px;height:10.50px;background:linear-gradient(90deg,#4f8c1a 0 1px,#5e9a14 1px 3px,#4f8c1a 3px 4px,#5e9a14 4px 7.5px,#3b7418 7.5px 9px,#5e9a14 9px 12px,#4f8c1a 12px 13px,#5e9a14 13px 16px,#4f8c1a 16px 17px);"></div>
<div style="left:549.30px;top:172.80px;width:17.00px;height:1.00px;background:#8a6a20;opacity:.75;"></div>
<div style="left:549.30px;top:182.30px;width:17.00px;height:1.00px;background:#8a4a20;opacity:.75;"></div>
<div style="left:549.10px;top:190.00px;width:16.80px;height:7.70px;background:#eefa4e;box-shadow:inset 0 0 0 1px #f2f8a0;"></div>
<div style="left:576.40px;top:70.00px;width:1.00px;height:130.00px;background:#535158;"></div>
<div style="left:599.90px;top:70.00px;width:1.00px;height:130.00px;background:#3c3a56;"></div>
<div style="left:576.50px;top:71.40px;width:20.00px;height:8.00px;line-height:8.00px;font-size:8.4px;color:#e8e8e8;text-align:left;"><span style="display:inline-block;transform:scaleX(0.85);transform-origin:left center">TPC</span></div>
<div style="left:577.60px;top:83.20px;width:21.60px;height:56.00px;box-shadow:inset 0 0 0 1px #4c4a4c;"></div>
<div style="left:579.70px;top:86.00px;width:16.00px;height:7.50px;line-height:7.50px;font-size:8.2px;color:#e8e8e8;text-align:left;"><span style="display:inline-block;transform:scaleX(0.9);transform-origin:left center">SM</span></div>
<div style="left:579.90px;top:95.50px;width:17.00px;height:2.50px;background:#236078;"></div>
<div style="left:579.90px;top:110.50px;width:17.00px;height:2.50px;background:#236078;"></div>
<div style="left:579.90px;top:126.80px;width:17.00px;height:2.50px;background:#203a66;"></div>
<div style="left:580.10px;top:98.30px;width:17.00px;height:10.30px;background:linear-gradient(90deg,#4f8c1a 0 1px,#5e9a14 1px 3px,#4f8c1a 3px 4px,#5e9a14 4px 7.5px,#3b7418 7.5px 9px,#5e9a14 9px 12px,#4f8c1a 12px 13px,#5e9a14 13px 16px,#4f8c1a 16px 17px);"></div>
<div style="left:580.10px;top:98.30px;width:17.00px;height:1.00px;background:#8a6a20;opacity:.75;"></div>
<div style="left:580.10px;top:107.60px;width:17.00px;height:1.00px;background:#8a4a20;opacity:.75;"></div>
<div style="left:580.10px;top:114.20px;width:17.00px;height:10.50px;background:linear-gradient(90deg,#4f8c1a 0 1px,#5e9a14 1px 3px,#4f8c1a 3px 4px,#5e9a14 4px 7.5px,#3b7418 7.5px 9px,#5e9a14 9px 12px,#4f8c1a 12px 13px,#5e9a14 13px 16px,#4f8c1a 16px 17px);"></div>
<div style="left:580.10px;top:114.20px;width:17.00px;height:1.00px;background:#8a6a20;opacity:.75;"></div>
<div style="left:580.10px;top:123.70px;width:17.00px;height:1.00px;background:#8a4a20;opacity:.75;"></div>
<div style="left:579.90px;top:131.00px;width:16.80px;height:7.70px;background:#eefa4e;box-shadow:inset 0 0 0 1px #f2f8a0;"></div>
<div style="left:577.60px;top:142.40px;width:21.60px;height:56.00px;box-shadow:inset 0 0 0 1px #4c4a4c;"></div>
<div style="left:579.70px;top:145.20px;width:16.00px;height:7.50px;line-height:7.50px;font-size:8.2px;color:#e8e8e8;text-align:left;"><span style="display:inline-block;transform:scaleX(0.9);transform-origin:left center">SM</span></div>
<div style="left:579.90px;top:154.00px;width:17.00px;height:2.50px;background:#236078;"></div>
<div style="left:579.90px;top:169.60px;width:17.00px;height:2.50px;background:#236078;"></div>
<div style="left:579.90px;top:185.80px;width:17.00px;height:2.50px;background:#203a66;"></div>
<div style="left:580.10px;top:156.90px;width:17.00px;height:10.30px;background:linear-gradient(90deg,#4f8c1a 0 1px,#5e9a14 1px 3px,#4f8c1a 3px 4px,#5e9a14 4px 7.5px,#3b7418 7.5px 9px,#5e9a14 9px 12px,#4f8c1a 12px 13px,#5e9a14 13px 16px,#4f8c1a 16px 17px);"></div>
<div style="left:580.10px;top:156.90px;width:17.00px;height:1.00px;background:#8a6a20;opacity:.75;"></div>
<div style="left:580.10px;top:166.20px;width:17.00px;height:1.00px;background:#8a4a20;opacity:.75;"></div>
<div style="left:580.10px;top:172.80px;width:17.00px;height:10.50px;background:linear-gradient(90deg,#4f8c1a 0 1px,#5e9a14 1px 3px,#4f8c1a 3px 4px,#5e9a14 4px 7.5px,#3b7418 7.5px 9px,#5e9a14 9px 12px,#4f8c1a 12px 13px,#5e9a14 13px 16px,#4f8c1a 16px 17px);"></div>
<div style="left:580.10px;top:172.80px;width:17.00px;height:1.00px;background:#8a6a20;opacity:.75;"></div>
<div style="left:580.10px;top:182.30px;width:17.00px;height:1.00px;background:#8a4a20;opacity:.75;"></div>
<div style="left:579.90px;top:190.00px;width:16.80px;height:7.70px;background:#eefa4e;box-shadow:inset 0 0 0 1px #f2f8a0;"></div>
<div style="left:417.90px;top:200.00px;width:188.60px;height:15.50px;background:#3f4542;"></div>
<div style="left:419.40px;top:201.20px;width:185.60px;height:1.00px;background:#4a3a58;"></div>
<div style="left:419.70px;top:204.20px;width:88.00px;height:3.60px;background:#2a5a74;"></div>
<div style="left:514.90px;top:204.20px;width:87.60px;height:3.60px;background:#2a5a74;"></div>
<div style="left:127.10px;top:334.20px;width:191.00px;height:170.20px;background:#464144;box-shadow:inset 0 0 0 1px #a8a5a2;"></div>
<div style="left:128.60px;top:335.50px;width:188.00px;height:9.00px;background:#3f4542;"></div>
<div style="left:130.10px;top:343.20px;width:185.00px;height:1.00px;background:#4a3a58;"></div>
<div style="left:132.40px;top:337.90px;width:86.00px;height:3.60px;background:#2a5a74;"></div>
<div style="left:223.70px;top:337.90px;width:88.00px;height:3.60px;background:#2a5a74;"></div>
<div style="left:130.10px;top:361.40px;width:185.00px;height:1.20px;background:#5a3550;opacity:.7;"></div>
<div style="left:130.10px;top:372.40px;width:185.00px;height:1.20px;background:#5a3550;opacity:.7;"></div>
<div style="left:130.10px;top:377.80px;width:185.00px;height:1.20px;background:#5a3550;opacity:.7;"></div>
<div style="left:130.10px;top:388.80px;width:185.00px;height:1.20px;background:#5a3550;opacity:.7;"></div>
<div style="left:130.10px;top:421.20px;width:185.00px;height:1.20px;background:#5a3550;opacity:.7;"></div>
<div style="left:130.10px;top:432.20px;width:185.00px;height:1.20px;background:#5a3550;opacity:.7;"></div>
<div style="left:130.10px;top:436.40px;width:185.00px;height:1.20px;background:#5a3550;opacity:.7;"></div>
<div style="left:130.10px;top:447.40px;width:185.00px;height:1.20px;background:#5a3550;opacity:.7;"></div>
<div style="left:133.50px;top:344.00px;width:1.00px;height:132.00px;background:#535158;"></div>
<div style="left:157.00px;top:344.00px;width:1.00px;height:132.00px;background:#3c3a56;"></div>
<div style="left:134.70px;top:346.20px;width:21.60px;height:56.00px;box-shadow:inset 0 0 0 1px #4c4a4c;"></div>
<div style="left:137.00px;top:349.20px;width:16.80px;height:7.60px;background:#eefa4e;box-shadow:inset 0 0 0 1px #f2f8a0;"></div>
<div style="left:137.00px;top:358.30px;width:17.00px;height:2.50px;background:#203a66;"></div>
<div style="left:137.00px;top:375.00px;width:17.00px;height:2.50px;background:#236078;"></div>
<div style="left:137.00px;top:390.80px;width:17.00px;height:2.20px;background:#236078;"></div>
<div style="left:137.20px;top:361.90px;width:17.00px;height:11.00px;background:linear-gradient(90deg,#4f8c1a 0 1px,#5e9a14 1px 3px,#4f8c1a 3px 4px,#5e9a14 4px 7.5px,#3b7418 7.5px 9px,#5e9a14 9px 12px,#4f8c1a 12px 13px,#5e9a14 13px 16px,#4f8c1a 16px 17px);"></div>
<div style="left:137.20px;top:361.90px;width:17.00px;height:1.00px;background:#8a6a20;opacity:.75;"></div>
<div style="left:137.20px;top:371.90px;width:17.00px;height:1.00px;background:#8a4a20;opacity:.75;"></div>
<div style="left:137.20px;top:378.30px;width:17.00px;height:11.00px;background:linear-gradient(90deg,#4f8c1a 0 1px,#5e9a14 1px 3px,#4f8c1a 3px 4px,#5e9a14 4px 7.5px,#3b7418 7.5px 9px,#5e9a14 9px 12px,#4f8c1a 12px 13px,#5e9a14 13px 16px,#4f8c1a 16px 17px);"></div>
<div style="left:137.20px;top:378.30px;width:17.00px;height:1.00px;background:#8a6a20;opacity:.75;"></div>
<div style="left:137.20px;top:388.30px;width:17.00px;height:1.00px;background:#8a4a20;opacity:.75;"></div>
<div style="left:136.60px;top:395.20px;width:16.00px;height:7.50px;line-height:7.50px;font-size:8.2px;color:#e8e8e8;text-align:left;"><span style="display:inline-block;transform:scaleX(0.9);transform-origin:left center">SM</span></div>
<div style="left:134.70px;top:405.00px;width:21.60px;height:56.00px;box-shadow:inset 0 0 0 1px #4c4a4c;"></div>
<div style="left:137.00px;top:408.00px;width:16.80px;height:7.60px;background:#eefa4e;box-shadow:inset 0 0 0 1px #f2f8a0;"></div>
<div style="left:137.00px;top:417.00px;width:17.00px;height:2.50px;background:#203a66;"></div>
<div style="left:137.00px;top:433.00px;width:17.00px;height:2.50px;background:#236078;"></div>
<div style="left:137.00px;top:448.30px;width:17.00px;height:2.20px;background:#236078;"></div>
<div style="left:137.20px;top:421.70px;width:17.00px;height:11.00px;background:linear-gradient(90deg,#4f8c1a 0 1px,#5e9a14 1px 3px,#4f8c1a 3px 4px,#5e9a14 4px 7.5px,#3b7418 7.5px 9px,#5e9a14 9px 12px,#4f8c1a 12px 13px,#5e9a14 13px 16px,#4f8c1a 16px 17px);"></div>
<div style="left:137.20px;top:421.70px;width:17.00px;height:1.00px;background:#8a6a20;opacity:.75;"></div>
<div style="left:137.20px;top:431.70px;width:17.00px;height:1.00px;background:#8a4a20;opacity:.75;"></div>
<div style="left:137.20px;top:436.90px;width:17.00px;height:11.00px;background:linear-gradient(90deg,#4f8c1a 0 1px,#5e9a14 1px 3px,#4f8c1a 3px 4px,#5e9a14 4px 7.5px,#3b7418 7.5px 9px,#5e9a14 9px 12px,#4f8c1a 12px 13px,#5e9a14 13px 16px,#4f8c1a 16px 17px);"></div>
<div style="left:137.20px;top:436.90px;width:17.00px;height:1.00px;background:#8a6a20;opacity:.75;"></div>
<div style="left:137.20px;top:446.90px;width:17.00px;height:1.00px;background:#8a4a20;opacity:.75;"></div>
<div style="left:136.60px;top:453.60px;width:16.00px;height:7.50px;line-height:7.50px;font-size:8.2px;color:#e8e8e8;text-align:left;"><span style="display:inline-block;transform:scaleX(0.9);transform-origin:left center">SM</span></div>
<div style="left:133.30px;top:466.00px;width:20.00px;height:8.00px;line-height:8.00px;font-size:8.4px;color:#e8e8e8;text-align:left;"><span style="display:inline-block;transform:scaleX(0.85);transform-origin:left center">TPC</span></div>
<div style="left:164.30px;top:344.00px;width:1.00px;height:132.00px;background:#535158;"></div>
<div style="left:187.80px;top:344.00px;width:1.00px;height:132.00px;background:#3c3a56;"></div>
<div style="left:165.50px;top:346.20px;width:21.60px;height:56.00px;box-shadow:inset 0 0 0 1px #4c4a4c;"></div>
<div style="left:167.80px;top:349.20px;width:16.80px;height:7.60px;background:#eefa4e;box-shadow:inset 0 0 0 1px #f2f8a0;"></div>
<div style="left:167.80px;top:358.30px;width:17.00px;height:2.50px;background:#203a66;"></div>
<div style="left:167.80px;top:375.00px;width:17.00px;height:2.50px;background:#236078;"></div>
<div style="left:167.80px;top:390.80px;width:17.00px;height:2.20px;background:#236078;"></div>
<div style="left:168.00px;top:361.90px;width:17.00px;height:11.00px;background:linear-gradient(90deg,#4f8c1a 0 1px,#5e9a14 1px 3px,#4f8c1a 3px 4px,#5e9a14 4px 7.5px,#3b7418 7.5px 9px,#5e9a14 9px 12px,#4f8c1a 12px 13px,#5e9a14 13px 16px,#4f8c1a 16px 17px);"></div>
<div style="left:168.00px;top:361.90px;width:17.00px;height:1.00px;background:#8a6a20;opacity:.75;"></div>
<div style="left:168.00px;top:371.90px;width:17.00px;height:1.00px;background:#8a4a20;opacity:.75;"></div>
<div style="left:168.00px;top:378.30px;width:17.00px;height:11.00px;background:linear-gradient(90deg,#4f8c1a 0 1px,#5e9a14 1px 3px,#4f8c1a 3px 4px,#5e9a14 4px 7.5px,#3b7418 7.5px 9px,#5e9a14 9px 12px,#4f8c1a 12px 13px,#5e9a14 13px 16px,#4f8c1a 16px 17px);"></div>
<div style="left:168.00px;top:378.30px;width:17.00px;height:1.00px;background:#8a6a20;opacity:.75;"></div>
<div style="left:168.00px;top:388.30px;width:17.00px;height:1.00px;background:#8a4a20;opacity:.75;"></div>
<div style="left:167.40px;top:395.20px;width:16.00px;height:7.50px;line-height:7.50px;font-size:8.2px;color:#e8e8e8;text-align:left;"><span style="display:inline-block;transform:scaleX(0.9);transform-origin:left center">SM</span></div>
<div style="left:165.50px;top:405.00px;width:21.60px;height:56.00px;box-shadow:inset 0 0 0 1px #4c4a4c;"></div>
<div style="left:167.80px;top:408.00px;width:16.80px;height:7.60px;background:#eefa4e;box-shadow:inset 0 0 0 1px #f2f8a0;"></div>
<div style="left:167.80px;top:417.00px;width:17.00px;height:2.50px;background:#203a66;"></div>
<div style="left:167.80px;top:433.00px;width:17.00px;height:2.50px;background:#236078;"></div>
<div style="left:167.80px;top:448.30px;width:17.00px;height:2.20px;background:#236078;"></div>
<div style="left:168.00px;top:421.70px;width:17.00px;height:11.00px;background:linear-gradient(90deg,#4f8c1a 0 1px,#5e9a14 1px 3px,#4f8c1a 3px 4px,#5e9a14 4px 7.5px,#3b7418 7.5px 9px,#5e9a14 9px 12px,#4f8c1a 12px 13px,#5e9a14 13px 16px,#4f8c1a 16px 17px);"></div>
<div style="left:168.00px;top:421.70px;width:17.00px;height:1.00px;background:#8a6a20;opacity:.75;"></div>
<div style="left:168.00px;top:431.70px;width:17.00px;height:1.00px;background:#8a4a20;opacity:.75;"></div>
<div style="left:168.00px;top:436.90px;width:17.00px;height:11.00px;background:linear-gradient(90deg,#4f8c1a 0 1px,#5e9a14 1px 3px,#4f8c1a 3px 4px,#5e9a14 4px 7.5px,#3b7418 7.5px 9px,#5e9a14 9px 12px,#4f8c1a 12px 13px,#5e9a14 13px 16px,#4f8c1a 16px 17px);"></div>
<div style="left:168.00px;top:436.90px;width:17.00px;height:1.00px;background:#8a6a20;opacity:.75;"></div>
<div style="left:168.00px;top:446.90px;width:17.00px;height:1.00px;background:#8a4a20;opacity:.75;"></div>
<div style="left:167.40px;top:453.60px;width:16.00px;height:7.50px;line-height:7.50px;font-size:8.2px;color:#e8e8e8;text-align:left;"><span style="display:inline-block;transform:scaleX(0.9);transform-origin:left center">SM</span></div>
<div style="left:164.10px;top:466.00px;width:20.00px;height:8.00px;line-height:8.00px;font-size:8.4px;color:#e8e8e8;text-align:left;"><span style="display:inline-block;transform:scaleX(0.85);transform-origin:left center">TPC</span></div>
<div style="left:195.10px;top:344.00px;width:1.00px;height:132.00px;background:#535158;"></div>
<div style="left:218.60px;top:344.00px;width:1.00px;height:132.00px;background:#3c3a56;"></div>
<div style="left:196.30px;top:346.20px;width:21.60px;height:56.00px;box-shadow:inset 0 0 0 1px #4c4a4c;"></div>
<div style="left:198.60px;top:349.20px;width:16.80px;height:7.60px;background:#eefa4e;box-shadow:inset 0 0 0 1px #f2f8a0;"></div>
<div style="left:198.60px;top:358.30px;width:17.00px;height:2.50px;background:#203a66;"></div>
<div style="left:198.60px;top:375.00px;width:17.00px;height:2.50px;background:#236078;"></div>
<div style="left:198.60px;top:390.80px;width:17.00px;height:2.20px;background:#236078;"></div>
<div style="left:198.80px;top:361.90px;width:17.00px;height:11.00px;background:linear-gradient(90deg,#4f8c1a 0 1px,#5e9a14 1px 3px,#4f8c1a 3px 4px,#5e9a14 4px 7.5px,#3b7418 7.5px 9px,#5e9a14 9px 12px,#4f8c1a 12px 13px,#5e9a14 13px 16px,#4f8c1a 16px 17px);"></div>
<div style="left:198.80px;top:361.90px;width:17.00px;height:1.00px;background:#8a6a20;opacity:.75;"></div>
<div style="left:198.80px;top:371.90px;width:17.00px;height:1.00px;background:#8a4a20;opacity:.75;"></div>
<div style="left:198.80px;top:378.30px;width:17.00px;height:11.00px;background:linear-gradient(90deg,#4f8c1a 0 1px,#5e9a14 1px 3px,#4f8c1a 3px 4px,#5e9a14 4px 7.5px,#3b7418 7.5px 9px,#5e9a14 9px 12px,#4f8c1a 12px 13px,#5e9a14 13px 16px,#4f8c1a 16px 17px);"></div>
<div style="left:198.80px;top:378.30px;width:17.00px;height:1.00px;background:#8a6a20;opacity:.75;"></div>
<div style="left:198.80px;top:388.30px;width:17.00px;height:1.00px;background:#8a4a20;opacity:.75;"></div>
<div style="left:198.20px;top:395.20px;width:16.00px;height:7.50px;line-height:7.50px;font-size:8.2px;color:#e8e8e8;text-align:left;"><span style="display:inline-block;transform:scaleX(0.9);transform-origin:left center">SM</span></div>
<div style="left:196.30px;top:405.00px;width:21.60px;height:56.00px;box-shadow:inset 0 0 0 1px #4c4a4c;"></div>
<div style="left:198.60px;top:408.00px;width:16.80px;height:7.60px;background:#eefa4e;box-shadow:inset 0 0 0 1px #f2f8a0;"></div>
<div style="left:198.60px;top:417.00px;width:17.00px;height:2.50px;background:#203a66;"></div>
<div style="left:198.60px;top:433.00px;width:17.00px;height:2.50px;background:#236078;"></div>
<div style="left:198.60px;top:448.30px;width:17.00px;height:2.20px;background:#236078;"></div>
<div style="left:198.80px;top:421.70px;width:17.00px;height:11.00px;background:linear-gradient(90deg,#4f8c1a 0 1px,#5e9a14 1px 3px,#4f8c1a 3px 4px,#5e9a14 4px 7.5px,#3b7418 7.5px 9px,#5e9a14 9px 12px,#4f8c1a 12px 13px,#5e9a14 13px 16px,#4f8c1a 16px 17px);"></div>
<div style="left:198.80px;top:421.70px;width:17.00px;height:1.00px;background:#8a6a20;opacity:.75;"></div>
<div style="left:198.80px;top:431.70px;width:17.00px;height:1.00px;background:#8a4a20;opacity:.75;"></div>
<div style="left:198.80px;top:436.90px;width:17.00px;height:11.00px;background:linear-gradient(90deg,#4f8c1a 0 1px,#5e9a14 1px 3px,#4f8c1a 3px 4px,#5e9a14 4px 7.5px,#3b7418 7.5px 9px,#5e9a14 9px 12px,#4f8c1a 12px 13px,#5e9a14 13px 16px,#4f8c1a 16px 17px);"></div>
<div style="left:198.80px;top:436.90px;width:17.00px;height:1.00px;background:#8a6a20;opacity:.75;"></div>
<div style="left:198.80px;top:446.90px;width:17.00px;height:1.00px;background:#8a4a20;opacity:.75;"></div>
<div style="left:198.20px;top:453.60px;width:16.00px;height:7.50px;line-height:7.50px;font-size:8.2px;color:#e8e8e8;text-align:left;"><span style="display:inline-block;transform:scaleX(0.9);transform-origin:left center">SM</span></div>
<div style="left:194.90px;top:466.00px;width:20.00px;height:8.00px;line-height:8.00px;font-size:8.4px;color:#e8e8e8;text-align:left;"><span style="display:inline-block;transform:scaleX(0.85);transform-origin:left center">TPC</span></div>
<div style="left:225.90px;top:344.00px;width:1.00px;height:132.00px;background:#535158;"></div>
<div style="left:249.40px;top:344.00px;width:1.00px;height:132.00px;background:#3c3a56;"></div>
<div style="left:227.10px;top:346.20px;width:21.60px;height:56.00px;box-shadow:inset 0 0 0 1px #4c4a4c;"></div>
<div style="left:229.40px;top:349.20px;width:16.80px;height:7.60px;background:#eefa4e;box-shadow:inset 0 0 0 1px #f2f8a0;"></div>
<div style="left:229.40px;top:358.30px;width:17.00px;height:2.50px;background:#203a66;"></div>
<div style="left:229.40px;top:375.00px;width:17.00px;height:2.50px;background:#236078;"></div>
<div style="left:229.40px;top:390.80px;width:17.00px;height:2.20px;background:#236078;"></div>
<div style="left:229.60px;top:361.90px;width:17.00px;height:11.00px;background:linear-gradient(90deg,#4f8c1a 0 1px,#5e9a14 1px 3px,#4f8c1a 3px 4px,#5e9a14 4px 7.5px,#3b7418 7.5px 9px,#5e9a14 9px 12px,#4f8c1a 12px 13px,#5e9a14 13px 16px,#4f8c1a 16px 17px);"></div>
<div style="left:229.60px;top:361.90px;width:17.00px;height:1.00px;background:#8a6a20;opacity:.75;"></div>
<div style="left:229.60px;top:371.90px;width:17.00px;height:1.00px;background:#8a4a20;opacity:.75;"></div>
<div style="left:229.60px;top:378.30px;width:17.00px;height:11.00px;background:linear-gradient(90deg,#4f8c1a 0 1px,#5e9a14 1px 3px,#4f8c1a 3px 4px,#5e9a14 4px 7.5px,#3b7418 7.5px 9px,#5e9a14 9px 12px,#4f8c1a 12px 13px,#5e9a14 13px 16px,#4f8c1a 16px 17px);"></div>
<div style="left:229.60px;top:378.30px;width:17.00px;height:1.00px;background:#8a6a20;opacity:.75;"></div>
<div style="left:229.60px;top:388.30px;width:17.00px;height:1.00px;background:#8a4a20;opacity:.75;"></div>
<div style="left:229.00px;top:395.20px;width:16.00px;height:7.50px;line-height:7.50px;font-size:8.2px;color:#e8e8e8;text-align:left;"><span style="display:inline-block;transform:scaleX(0.9);transform-origin:left center">SM</span></div>
<div style="left:227.10px;top:405.00px;width:21.60px;height:56.00px;box-shadow:inset 0 0 0 1px #4c4a4c;"></div>
<div style="left:229.40px;top:408.00px;width:16.80px;height:7.60px;background:#eefa4e;box-shadow:inset 0 0 0 1px #f2f8a0;"></div>
<div style="left:229.40px;top:417.00px;width:17.00px;height:2.50px;background:#203a66;"></div>
<div style="left:229.40px;top:433.00px;width:17.00px;height:2.50px;background:#236078;"></div>
<div style="left:229.40px;top:448.30px;width:17.00px;height:2.20px;background:#236078;"></div>
<div style="left:229.60px;top:421.70px;width:17.00px;height:11.00px;background:linear-gradient(90deg,#4f8c1a 0 1px,#5e9a14 1px 3px,#4f8c1a 3px 4px,#5e9a14 4px 7.5px,#3b7418 7.5px 9px,#5e9a14 9px 12px,#4f8c1a 12px 13px,#5e9a14 13px 16px,#4f8c1a 16px 17px);"></div>
<div style="left:229.60px;top:421.70px;width:17.00px;height:1.00px;background:#8a6a20;opacity:.75;"></div>
<div style="left:229.60px;top:431.70px;width:17.00px;height:1.00px;background:#8a4a20;opacity:.75;"></div>
<div style="left:229.60px;top:436.90px;width:17.00px;height:11.00px;background:linear-gradient(90deg,#4f8c1a 0 1px,#5e9a14 1px 3px,#4f8c1a 3px 4px,#5e9a14 4px 7.5px,#3b7418 7.5px 9px,#5e9a14 9px 12px,#4f8c1a 12px 13px,#5e9a14 13px 16px,#4f8c1a 16px 17px);"></div>
<div style="left:229.60px;top:436.90px;width:17.00px;height:1.00px;background:#8a6a20;opacity:.75;"></div>
<div style="left:229.60px;top:446.90px;width:17.00px;height:1.00px;background:#8a4a20;opacity:.75;"></div>
<div style="left:229.00px;top:453.60px;width:16.00px;height:7.50px;line-height:7.50px;font-size:8.2px;color:#e8e8e8;text-align:left;"><span style="display:inline-block;transform:scaleX(0.9);transform-origin:left center">SM</span></div>
<div style="left:225.70px;top:466.00px;width:20.00px;height:8.00px;line-height:8.00px;font-size:8.4px;color:#e8e8e8;text-align:left;"><span style="display:inline-block;transform:scaleX(0.85);transform-origin:left center">TPC</span></div>
<div style="left:256.70px;top:344.00px;width:1.00px;height:132.00px;background:#535158;"></div>
<div style="left:280.20px;top:344.00px;width:1.00px;height:132.00px;background:#3c3a56;"></div>
<div style="left:257.90px;top:346.20px;width:21.60px;height:56.00px;box-shadow:inset 0 0 0 1px #4c4a4c;"></div>
<div style="left:260.20px;top:349.20px;width:16.80px;height:7.60px;background:#eefa4e;box-shadow:inset 0 0 0 1px #f2f8a0;"></div>
<div style="left:260.20px;top:358.30px;width:17.00px;height:2.50px;background:#203a66;"></div>
<div style="left:260.20px;top:375.00px;width:17.00px;height:2.50px;background:#236078;"></div>
<div style="left:260.20px;top:390.80px;width:17.00px;height:2.20px;background:#236078;"></div>
<div style="left:260.40px;top:361.90px;width:17.00px;height:11.00px;background:linear-gradient(90deg,#4f8c1a 0 1px,#5e9a14 1px 3px,#4f8c1a 3px 4px,#5e9a14 4px 7.5px,#3b7418 7.5px 9px,#5e9a14 9px 12px,#4f8c1a 12px 13px,#5e9a14 13px 16px,#4f8c1a 16px 17px);"></div>
<div style="left:260.40px;top:361.90px;width:17.00px;height:1.00px;background:#8a6a20;opacity:.75;"></div>
<div style="left:260.40px;top:371.90px;width:17.00px;height:1.00px;background:#8a4a20;opacity:.75;"></div>
<div style="left:260.40px;top:378.30px;width:17.00px;height:11.00px;background:linear-gradient(90deg,#4f8c1a 0 1px,#5e9a14 1px 3px,#4f8c1a 3px 4px,#5e9a14 4px 7.5px,#3b7418 7.5px 9px,#5e9a14 9px 12px,#4f8c1a 12px 13px,#5e9a14 13px 16px,#4f8c1a 16px 17px);"></div>
<div style="left:260.40px;top:378.30px;width:17.00px;height:1.00px;background:#8a6a20;opacity:.75;"></div>
<div style="left:260.40px;top:388.30px;width:17.00px;height:1.00px;background:#8a4a20;opacity:.75;"></div>
<div style="left:259.80px;top:395.20px;width:16.00px;height:7.50px;line-height:7.50px;font-size:8.2px;color:#e8e8e8;text-align:left;"><span style="display:inline-block;transform:scaleX(0.9);transform-origin:left center">SM</span></div>
<div style="left:257.90px;top:405.00px;width:21.60px;height:56.00px;box-shadow:inset 0 0 0 1px #4c4a4c;"></div>
<div style="left:260.20px;top:408.00px;width:16.80px;height:7.60px;background:#eefa4e;box-shadow:inset 0 0 0 1px #f2f8a0;"></div>
<div style="left:260.20px;top:417.00px;width:17.00px;height:2.50px;background:#203a66;"></div>
<div style="left:260.20px;top:433.00px;width:17.00px;height:2.50px;background:#236078;"></div>
<div style="left:260.20px;top:448.30px;width:17.00px;height:2.20px;background:#236078;"></div>
<div style="left:260.40px;top:421.70px;width:17.00px;height:11.00px;background:linear-gradient(90deg,#4f8c1a 0 1px,#5e9a14 1px 3px,#4f8c1a 3px 4px,#5e9a14 4px 7.5px,#3b7418 7.5px 9px,#5e9a14 9px 12px,#4f8c1a 12px 13px,#5e9a14 13px 16px,#4f8c1a 16px 17px);"></div>
<div style="left:260.40px;top:421.70px;width:17.00px;height:1.00px;background:#8a6a20;opacity:.75;"></div>
<div style="left:260.40px;top:431.70px;width:17.00px;height:1.00px;background:#8a4a20;opacity:.75;"></div>
<div style="left:260.40px;top:436.90px;width:17.00px;height:11.00px;background:linear-gradient(90deg,#4f8c1a 0 1px,#5e9a14 1px 3px,#4f8c1a 3px 4px,#5e9a14 4px 7.5px,#3b7418 7.5px 9px,#5e9a14 9px 12px,#4f8c1a 12px 13px,#5e9a14 13px 16px,#4f8c1a 16px 17px);"></div>
<div style="left:260.40px;top:436.90px;width:17.00px;height:1.00px;background:#8a6a20;opacity:.75;"></div>
<div style="left:260.40px;top:446.90px;width:17.00px;height:1.00px;background:#8a4a20;opacity:.75;"></div>
<div style="left:259.80px;top:453.60px;width:16.00px;height:7.50px;line-height:7.50px;font-size:8.2px;color:#e8e8e8;text-align:left;"><span style="display:inline-block;transform:scaleX(0.9);transform-origin:left center">SM</span></div>
<div style="left:256.50px;top:466.00px;width:20.00px;height:8.00px;line-height:8.00px;font-size:8.4px;color:#e8e8e8;text-align:left;"><span style="display:inline-block;transform:scaleX(0.85);transform-origin:left center">TPC</span></div>
<div style="left:287.50px;top:344.00px;width:1.00px;height:132.00px;background:#535158;"></div>
<div style="left:311.00px;top:344.00px;width:1.00px;height:132.00px;background:#3c3a56;"></div>
<div style="left:288.70px;top:346.20px;width:21.60px;height:56.00px;box-shadow:inset 0 0 0 1px #4c4a4c;"></div>
<div style="left:291.00px;top:349.20px;width:16.80px;height:7.60px;background:#eefa4e;box-shadow:inset 0 0 0 1px #f2f8a0;"></div>
<div style="left:291.00px;top:358.30px;width:17.00px;height:2.50px;background:#203a66;"></div>
<div style="left:291.00px;top:375.00px;width:17.00px;height:2.50px;background:#236078;"></div>
<div style="left:291.00px;top:390.80px;width:17.00px;height:2.20px;background:#236078;"></div>
<div style="left:291.20px;top:361.90px;width:17.00px;height:11.00px;background:linear-gradient(90deg,#4f8c1a 0 1px,#5e9a14 1px 3px,#4f8c1a 3px 4px,#5e9a14 4px 7.5px,#3b7418 7.5px 9px,#5e9a14 9px 12px,#4f8c1a 12px 13px,#5e9a14 13px 16px,#4f8c1a 16px 17px);"></div>
<div style="left:291.20px;top:361.90px;width:17.00px;height:1.00px;background:#8a6a20;opacity:.75;"></div>
<div style="left:291.20px;top:371.90px;width:17.00px;height:1.00px;background:#8a4a20;opacity:.75;"></div>
<div style="left:291.20px;top:378.30px;width:17.00px;height:11.00px;background:linear-gradient(90deg,#4f8c1a 0 1px,#5e9a14 1px 3px,#4f8c1a 3px 4px,#5e9a14 4px 7.5px,#3b7418 7.5px 9px,#5e9a14 9px 12px,#4f8c1a 12px 13px,#5e9a14 13px 16px,#4f8c1a 16px 17px);"></div>
<div style="left:291.20px;top:378.30px;width:17.00px;height:1.00px;background:#8a6a20;opacity:.75;"></div>
<div style="left:291.20px;top:388.30px;width:17.00px;height:1.00px;background:#8a4a20;opacity:.75;"></div>
<div style="left:290.60px;top:395.20px;width:16.00px;height:7.50px;line-height:7.50px;font-size:8.2px;color:#e8e8e8;text-align:left;"><span style="display:inline-block;transform:scaleX(0.9);transform-origin:left center">SM</span></div>
<div style="left:288.70px;top:405.00px;width:21.60px;height:56.00px;box-shadow:inset 0 0 0 1px #4c4a4c;"></div>
<div style="left:291.00px;top:408.00px;width:16.80px;height:7.60px;background:#eefa4e;box-shadow:inset 0 0 0 1px #f2f8a0;"></div>
<div style="left:291.00px;top:417.00px;width:17.00px;height:2.50px;background:#203a66;"></div>
<div style="left:291.00px;top:433.00px;width:17.00px;height:2.50px;background:#236078;"></div>
<div style="left:291.00px;top:448.30px;width:17.00px;height:2.20px;background:#236078;"></div>
<div style="left:291.20px;top:421.70px;width:17.00px;height:11.00px;background:linear-gradient(90deg,#4f8c1a 0 1px,#5e9a14 1px 3px,#4f8c1a 3px 4px,#5e9a14 4px 7.5px,#3b7418 7.5px 9px,#5e9a14 9px 12px,#4f8c1a 12px 13px,#5e9a14 13px 16px,#4f8c1a 16px 17px);"></div>
<div style="left:291.20px;top:421.70px;width:17.00px;height:1.00px;background:#8a6a20;opacity:.75;"></div>
<div style="left:291.20px;top:431.70px;width:17.00px;height:1.00px;background:#8a4a20;opacity:.75;"></div>
<div style="left:291.20px;top:436.90px;width:17.00px;height:11.00px;background:linear-gradient(90deg,#4f8c1a 0 1px,#5e9a14 1px 3px,#4f8c1a 3px 4px,#5e9a14 4px 7.5px,#3b7418 7.5px 9px,#5e9a14 9px 12px,#4f8c1a 12px 13px,#5e9a14 13px 16px,#4f8c1a 16px 17px);"></div>
<div style="left:291.20px;top:436.90px;width:17.00px;height:1.00px;background:#8a6a20;opacity:.75;"></div>
<div style="left:291.20px;top:446.90px;width:17.00px;height:1.00px;background:#8a4a20;opacity:.75;"></div>
<div style="left:290.60px;top:453.60px;width:16.00px;height:7.50px;line-height:7.50px;font-size:8.2px;color:#e8e8e8;text-align:left;"><span style="display:inline-block;transform:scaleX(0.9);transform-origin:left center">SM</span></div>
<div style="left:287.30px;top:466.00px;width:20.00px;height:8.00px;line-height:8.00px;font-size:8.4px;color:#e8e8e8;text-align:left;"><span style="display:inline-block;transform:scaleX(0.85);transform-origin:left center">TPC</span></div>
<div style="left:130.60px;top:478.30px;width:182.50px;height:10.00px;background:#1f5a6a;box-shadow:inset 0 0 0 1px #173a44;"></div>
<div style="left:131.40px;top:479.30px;width:3.20px;height:8.00px;background:#1c4550;"></div>
<div style="left:130.60px;top:478.60px;width:182.50px;height:10.00px;line-height:10.00px;font-size:8.6px;color:#86cde4;text-align:center;"><span style="display:inline-block;transform:scaleX(0.855);transform-origin:center center">Raster Engine</span></div>
<div style="left:129.50px;top:490.20px;width:30.00px;height:8.00px;line-height:8.00px;font-size:8.4px;color:#ececec;text-align:left;"><span style="display:inline-block;transform:scaleX(0.82);transform-origin:left center">GPC</span></div>
<div style="left:320.40px;top:334.20px;width:191.00px;height:170.20px;background:#464144;box-shadow:inset 0 0 0 1px #a8a5a2;"></div>
<div style="left:321.90px;top:335.50px;width:188.00px;height:9.00px;background:#3f4542;"></div>
<div style="left:323.40px;top:343.20px;width:185.00px;height:1.00px;background:#4a3a58;"></div>
<div style="left:325.70px;top:337.90px;width:86.00px;height:3.60px;background:#2a5a74;"></div>
<div style="left:417.00px;top:337.90px;width:88.00px;height:3.60px;background:#2a5a74;"></div>
<div style="left:323.40px;top:361.40px;width:185.00px;height:1.20px;background:#5a3550;opacity:.7;"></div>
<div style="left:323.40px;top:372.40px;width:185.00px;height:1.20px;background:#5a3550;opacity:.7;"></div>
<div style="left:323.40px;top:377.80px;width:185.00px;height:1.20px;background:#5a3550;opacity:.7;"></div>
<div style="left:323.40px;top:388.80px;width:185.00px;height:1.20px;background:#5a3550;opacity:.7;"></div>
<div style="left:323.40px;top:421.20px;width:185.00px;height:1.20px;background:#5a3550;opacity:.7;"></div>
<div style="left:323.40px;top:432.20px;width:185.00px;height:1.20px;background:#5a3550;opacity:.7;"></div>
<div style="left:323.40px;top:436.40px;width:185.00px;height:1.20px;background:#5a3550;opacity:.7;"></div>
<div style="left:323.40px;top:447.40px;width:185.00px;height:1.20px;background:#5a3550;opacity:.7;"></div>
<div style="left:326.70px;top:344.00px;width:1.00px;height:132.00px;background:#535158;"></div>
<div style="left:350.20px;top:344.00px;width:1.00px;height:132.00px;background:#3c3a56;"></div>
<div style="left:327.90px;top:346.20px;width:21.60px;height:56.00px;box-shadow:inset 0 0 0 1px #4c4a4c;"></div>
<div style="left:330.20px;top:349.20px;width:16.80px;height:7.60px;background:#eefa4e;box-shadow:inset 0 0 0 1px #f2f8a0;"></div>
<div style="left:330.20px;top:358.30px;width:17.00px;height:2.50px;background:#203a66;"></div>
<div style="left:330.20px;top:375.00px;width:17.00px;height:2.50px;background:#236078;"></div>
<div style="left:330.20px;top:390.80px;width:17.00px;height:2.20px;background:#236078;"></div>
<div style="left:330.40px;top:361.90px;width:17.00px;height:11.00px;background:linear-gradient(90deg,#4f8c1a 0 1px,#5e9a14 1px 3px,#4f8c1a 3px 4px,#5e9a14 4px 7.5px,#3b7418 7.5px 9px,#5e9a14 9px 12px,#4f8c1a 12px 13px,#5e9a14 13px 16px,#4f8c1a 16px 17px);"></div>
<div style="left:330.40px;top:361.90px;width:17.00px;height:1.00px;background:#8a6a20;opacity:.75;"></div>
<div style="left:330.40px;top:371.90px;width:17.00px;height:1.00px;background:#8a4a20;opacity:.75;"></div>
<div style="left:330.40px;top:378.30px;width:17.00px;height:11.00px;background:linear-gradient(90deg,#4f8c1a 0 1px,#5e9a14 1px 3px,#4f8c1a 3px 4px,#5e9a14 4px 7.5px,#3b7418 7.5px 9px,#5e9a14 9px 12px,#4f8c1a 12px 13px,#5e9a14 13px 16px,#4f8c1a 16px 17px);"></div>
<div style="left:330.40px;top:378.30px;width:17.00px;height:1.00px;background:#8a6a20;opacity:.75;"></div>
<div style="left:330.40px;top:388.30px;width:17.00px;height:1.00px;background:#8a4a20;opacity:.75;"></div>
<div style="left:329.80px;top:395.20px;width:16.00px;height:7.50px;line-height:7.50px;font-size:8.2px;color:#e8e8e8;text-align:left;"><span style="display:inline-block;transform:scaleX(0.9);transform-origin:left center">SM</span></div>
<div style="left:327.90px;top:405.00px;width:21.60px;height:56.00px;box-shadow:inset 0 0 0 1px #4c4a4c;"></div>
<div style="left:330.20px;top:408.00px;width:16.80px;height:7.60px;background:#eefa4e;box-shadow:inset 0 0 0 1px #f2f8a0;"></div>
<div style="left:330.20px;top:417.00px;width:17.00px;height:2.50px;background:#203a66;"></div>
<div style="left:330.20px;top:433.00px;width:17.00px;height:2.50px;background:#236078;"></div>
<div style="left:330.20px;top:448.30px;width:17.00px;height:2.20px;background:#236078;"></div>
<div style="left:330.40px;top:421.70px;width:17.00px;height:11.00px;background:linear-gradient(90deg,#4f8c1a 0 1px,#5e9a14 1px 3px,#4f8c1a 3px 4px,#5e9a14 4px 7.5px,#3b7418 7.5px 9px,#5e9a14 9px 12px,#4f8c1a 12px 13px,#5e9a14 13px 16px,#4f8c1a 16px 17px);"></div>
<div style="left:330.40px;top:421.70px;width:17.00px;height:1.00px;background:#8a6a20;opacity:.75;"></div>
<div style="left:330.40px;top:431.70px;width:17.00px;height:1.00px;background:#8a4a20;opacity:.75;"></div>
<div style="left:330.40px;top:436.90px;width:17.00px;height:11.00px;background:linear-gradient(90deg,#4f8c1a 0 1px,#5e9a14 1px 3px,#4f8c1a 3px 4px,#5e9a14 4px 7.5px,#3b7418 7.5px 9px,#5e9a14 9px 12px,#4f8c1a 12px 13px,#5e9a14 13px 16px,#4f8c1a 16px 17px);"></div>
<div style="left:330.40px;top:436.90px;width:17.00px;height:1.00px;background:#8a6a20;opacity:.75;"></div>
<div style="left:330.40px;top:446.90px;width:17.00px;height:1.00px;background:#8a4a20;opacity:.75;"></div>
<div style="left:329.80px;top:453.60px;width:16.00px;height:7.50px;line-height:7.50px;font-size:8.2px;color:#e8e8e8;text-align:left;"><span style="display:inline-block;transform:scaleX(0.9);transform-origin:left center">SM</span></div>
<div style="left:326.50px;top:466.00px;width:20.00px;height:8.00px;line-height:8.00px;font-size:8.4px;color:#e8e8e8;text-align:left;"><span style="display:inline-block;transform:scaleX(0.85);transform-origin:left center">TPC</span></div>
<div style="left:357.50px;top:344.00px;width:1.00px;height:132.00px;background:#535158;"></div>
<div style="left:381.00px;top:344.00px;width:1.00px;height:132.00px;background:#3c3a56;"></div>
<div style="left:358.70px;top:346.20px;width:21.60px;height:56.00px;box-shadow:inset 0 0 0 1px #4c4a4c;"></div>
<div style="left:361.00px;top:349.20px;width:16.80px;height:7.60px;background:#eefa4e;box-shadow:inset 0 0 0 1px #f2f8a0;"></div>
<div style="left:361.00px;top:358.30px;width:17.00px;height:2.50px;background:#203a66;"></div>
<div style="left:361.00px;top:375.00px;width:17.00px;height:2.50px;background:#236078;"></div>
<div style="left:361.00px;top:390.80px;width:17.00px;height:2.20px;background:#236078;"></div>
<div style="left:361.20px;top:361.90px;width:17.00px;height:11.00px;background:linear-gradient(90deg,#4f8c1a 0 1px,#5e9a14 1px 3px,#4f8c1a 3px 4px,#5e9a14 4px 7.5px,#3b7418 7.5px 9px,#5e9a14 9px 12px,#4f8c1a 12px 13px,#5e9a14 13px 16px,#4f8c1a 16px 17px);"></div>
<div style="left:361.20px;top:361.90px;width:17.00px;height:1.00px;background:#8a6a20;opacity:.75;"></div>
<div style="left:361.20px;top:371.90px;width:17.00px;height:1.00px;background:#8a4a20;opacity:.75;"></div>
<div style="left:361.20px;top:378.30px;width:17.00px;height:11.00px;background:linear-gradient(90deg,#4f8c1a 0 1px,#5e9a14 1px 3px,#4f8c1a 3px 4px,#5e9a14 4px 7.5px,#3b7418 7.5px 9px,#5e9a14 9px 12px,#4f8c1a 12px 13px,#5e9a14 13px 16px,#4f8c1a 16px 17px);"></div>
<div style="left:361.20px;top:378.30px;width:17.00px;height:1.00px;background:#8a6a20;opacity:.75;"></div>
<div style="left:361.20px;top:388.30px;width:17.00px;height:1.00px;background:#8a4a20;opacity:.75;"></div>
<div style="left:360.60px;top:395.20px;width:16.00px;height:7.50px;line-height:7.50px;font-size:8.2px;color:#e8e8e8;text-align:left;"><span style="display:inline-block;transform:scaleX(0.9);transform-origin:left center">SM</span></div>
<div style="left:358.70px;top:405.00px;width:21.60px;height:56.00px;box-shadow:inset 0 0 0 1px #4c4a4c;"></div>
<div style="left:361.00px;top:408.00px;width:16.80px;height:7.60px;background:#eefa4e;box-shadow:inset 0 0 0 1px #f2f8a0;"></div>
<div style="left:361.00px;top:417.00px;width:17.00px;height:2.50px;background:#203a66;"></div>
<div style="left:361.00px;top:433.00px;width:17.00px;height:2.50px;background:#236078;"></div>
<div style="left:361.00px;top:448.30px;width:17.00px;height:2.20px;background:#236078;"></div>
<div style="left:361.20px;top:421.70px;width:17.00px;height:11.00px;background:linear-gradient(90deg,#4f8c1a 0 1px,#5e9a14 1px 3px,#4f8c1a 3px 4px,#5e9a14 4px 7.5px,#3b7418 7.5px 9px,#5e9a14 9px 12px,#4f8c1a 12px 13px,#5e9a14 13px 16px,#4f8c1a 16px 17px);"></div>
<div style="left:361.20px;top:421.70px;width:17.00px;height:1.00px;background:#8a6a20;opacity:.75;"></div>
<div style="left:361.20px;top:431.70px;width:17.00px;height:1.00px;background:#8a4a20;opacity:.75;"></div>
<div style="left:361.20px;top:436.90px;width:17.00px;height:11.00px;background:linear-gradient(90deg,#4f8c1a 0 1px,#5e9a14 1px 3px,#4f8c1a 3px 4px,#5e9a14 4px 7.5px,#3b7418 7.5px 9px,#5e9a14 9px 12px,#4f8c1a 12px 13px,#5e9a14 13px 16px,#4f8c1a 16px 17px);"></div>
<div style="left:361.20px;top:436.90px;width:17.00px;height:1.00px;background:#8a6a20;opacity:.75;"></div>
<div style="left:361.20px;top:446.90px;width:17.00px;height:1.00px;background:#8a4a20;opacity:.75;"></div>
<div style="left:360.60px;top:453.60px;width:16.00px;height:7.50px;line-height:7.50px;font-size:8.2px;color:#e8e8e8;text-align:left;"><span style="display:inline-block;transform:scaleX(0.9);transform-origin:left center">SM</span></div>
<div style="left:357.30px;top:466.00px;width:20.00px;height:8.00px;line-height:8.00px;font-size:8.4px;color:#e8e8e8;text-align:left;"><span style="display:inline-block;transform:scaleX(0.85);transform-origin:left center">TPC</span></div>
<div style="left:388.30px;top:344.00px;width:1.00px;height:132.00px;background:#535158;"></div>
<div style="left:411.80px;top:344.00px;width:1.00px;height:132.00px;background:#3c3a56;"></div>
<div style="left:389.50px;top:346.20px;width:21.60px;height:56.00px;box-shadow:inset 0 0 0 1px #4c4a4c;"></div>
<div style="left:391.80px;top:349.20px;width:16.80px;height:7.60px;background:#eefa4e;box-shadow:inset 0 0 0 1px #f2f8a0;"></div>
<div style="left:391.80px;top:358.30px;width:17.00px;height:2.50px;background:#203a66;"></div>
<div style="left:391.80px;top:375.00px;width:17.00px;height:2.50px;background:#236078;"></div>
<div style="left:391.80px;top:390.80px;width:17.00px;height:2.20px;background:#236078;"></div>
<div style="left:392.00px;top:361.90px;width:17.00px;height:11.00px;background:linear-gradient(90deg,#4f8c1a 0 1px,#5e9a14 1px 3px,#4f8c1a 3px 4px,#5e9a14 4px 7.5px,#3b7418 7.5px 9px,#5e9a14 9px 12px,#4f8c1a 12px 13px,#5e9a14 13px 16px,#4f8c1a 16px 17px);"></div>
<div style="left:392.00px;top:361.90px;width:17.00px;height:1.00px;background:#8a6a20;opacity:.75;"></div>
<div style="left:392.00px;top:371.90px;width:17.00px;height:1.00px;background:#8a4a20;opacity:.75;"></div>
<div style="left:392.00px;top:378.30px;width:17.00px;height:11.00px;background:linear-gradient(90deg,#4f8c1a 0 1px,#5e9a14 1px 3px,#4f8c1a 3px 4px,#5e9a14 4px 7.5px,#3b7418 7.5px 9px,#5e9a14 9px 12px,#4f8c1a 12px 13px,#5e9a14 13px 16px,#4f8c1a 16px 17px);"></div>
<div style="left:392.00px;top:378.30px;width:17.00px;height:1.00px;background:#8a6a20;opacity:.75;"></div>
<div style="left:392.00px;top:388.30px;width:17.00px;height:1.00px;background:#8a4a20;opacity:.75;"></div>
<div style="left:391.40px;top:395.20px;width:16.00px;height:7.50px;line-height:7.50px;font-size:8.2px;color:#e8e8e8;text-align:left;"><span style="display:inline-block;transform:scaleX(0.9);transform-origin:left center">SM</span></div>
<div style="left:389.50px;top:405.00px;width:21.60px;height:56.00px;box-shadow:inset 0 0 0 1px #4c4a4c;"></div>
<div style="left:391.80px;top:408.00px;width:16.80px;height:7.60px;background:#eefa4e;box-shadow:inset 0 0 0 1px #f2f8a0;"></div>
<div style="left:391.80px;top:417.00px;width:17.00px;height:2.50px;background:#203a66;"></div>
<div style="left:391.80px;top:433.00px;width:17.00px;height:2.50px;background:#236078;"></div>
<div style="left:391.80px;top:448.30px;width:17.00px;height:2.20px;background:#236078;"></div>
<div style="left:392.00px;top:421.70px;width:17.00px;height:11.00px;background:linear-gradient(90deg,#4f8c1a 0 1px,#5e9a14 1px 3px,#4f8c1a 3px 4px,#5e9a14 4px 7.5px,#3b7418 7.5px 9px,#5e9a14 9px 12px,#4f8c1a 12px 13px,#5e9a14 13px 16px,#4f8c1a 16px 17px);"></div>
<div style="left:392.00px;top:421.70px;width:17.00px;height:1.00px;background:#8a6a20;opacity:.75;"></div>
<div style="left:392.00px;top:431.70px;width:17.00px;height:1.00px;background:#8a4a20;opacity:.75;"></div>
<div style="left:392.00px;top:436.90px;width:17.00px;height:11.00px;background:linear-gradient(90deg,#4f8c1a 0 1px,#5e9a14 1px 3px,#4f8c1a 3px 4px,#5e9a14 4px 7.5px,#3b7418 7.5px 9px,#5e9a14 9px 12px,#4f8c1a 12px 13px,#5e9a14 13px 16px,#4f8c1a 16px 17px);"></div>
<div style="left:392.00px;top:436.90px;width:17.00px;height:1.00px;background:#8a6a20;opacity:.75;"></div>
<div style="left:392.00px;top:446.90px;width:17.00px;height:1.00px;background:#8a4a20;opacity:.75;"></div>
<div style="left:391.40px;top:453.60px;width:16.00px;height:7.50px;line-height:7.50px;font-size:8.2px;color:#e8e8e8;text-align:left;"><span style="display:inline-block;transform:scaleX(0.9);transform-origin:left center">SM</span></div>
<div style="left:388.10px;top:466.00px;width:20.00px;height:8.00px;line-height:8.00px;font-size:8.4px;color:#e8e8e8;text-align:left;"><span style="display:inline-block;transform:scaleX(0.85);transform-origin:left center">TPC</span></div>
<div style="left:419.10px;top:344.00px;width:1.00px;height:132.00px;background:#535158;"></div>
<div style="left:442.60px;top:344.00px;width:1.00px;height:132.00px;background:#3c3a56;"></div>
<div style="left:420.30px;top:346.20px;width:21.60px;height:56.00px;box-shadow:inset 0 0 0 1px #4c4a4c;"></div>
<div style="left:422.60px;top:349.20px;width:16.80px;height:7.60px;background:#eefa4e;box-shadow:inset 0 0 0 1px #f2f8a0;"></div>
<div style="left:422.60px;top:358.30px;width:17.00px;height:2.50px;background:#203a66;"></div>
<div style="left:422.60px;top:375.00px;width:17.00px;height:2.50px;background:#236078;"></div>
<div style="left:422.60px;top:390.80px;width:17.00px;height:2.20px;background:#236078;"></div>
<div style="left:422.80px;top:361.90px;width:17.00px;height:11.00px;background:linear-gradient(90deg,#4f8c1a 0 1px,#5e9a14 1px 3px,#4f8c1a 3px 4px,#5e9a14 4px 7.5px,#3b7418 7.5px 9px,#5e9a14 9px 12px,#4f8c1a 12px 13px,#5e9a14 13px 16px,#4f8c1a 16px 17px);"></div>
<div style="left:422.80px;top:361.90px;width:17.00px;height:1.00px;background:#8a6a20;opacity:.75;"></div>
<div style="left:422.80px;top:371.90px;width:17.00px;height:1.00px;background:#8a4a20;opacity:.75;"></div>
<div style="left:422.80px;top:378.30px;width:17.00px;height:11.00px;background:linear-gradient(90deg,#4f8c1a 0 1px,#5e9a14 1px 3px,#4f8c1a 3px 4px,#5e9a14 4px 7.5px,#3b7418 7.5px 9px,#5e9a14 9px 12px,#4f8c1a 12px 13px,#5e9a14 13px 16px,#4f8c1a 16px 17px);"></div>
<div style="left:422.80px;top:378.30px;width:17.00px;height:1.00px;background:#8a6a20;opacity:.75;"></div>
<div style="left:422.80px;top:388.30px;width:17.00px;height:1.00px;background:#8a4a20;opacity:.75;"></div>
<div style="left:422.20px;top:395.20px;width:16.00px;height:7.50px;line-height:7.50px;font-size:8.2px;color:#e8e8e8;text-align:left;"><span style="display:inline-block;transform:scaleX(0.9);transform-origin:left center">SM</span></div>
<div style="left:420.30px;top:405.00px;width:21.60px;height:56.00px;box-shadow:inset 0 0 0 1px #4c4a4c;"></div>
<div style="left:422.60px;top:408.00px;width:16.80px;height:7.60px;background:#eefa4e;box-shadow:inset 0 0 0 1px #f2f8a0;"></div>
<div style="left:422.60px;top:417.00px;width:17.00px;height:2.50px;background:#203a66;"></div>
<div style="left:422.60px;top:433.00px;width:17.00px;height:2.50px;background:#236078;"></div>
<div style="left:422.60px;top:448.30px;width:17.00px;height:2.20px;background:#236078;"></div>
<div style="left:422.80px;top:421.70px;width:17.00px;height:11.00px;background:linear-gradient(90deg,#4f8c1a 0 1px,#5e9a14 1px 3px,#4f8c1a 3px 4px,#5e9a14 4px 7.5px,#3b7418 7.5px 9px,#5e9a14 9px 12px,#4f8c1a 12px 13px,#5e9a14 13px 16px,#4f8c1a 16px 17px);"></div>
<div style="left:422.80px;top:421.70px;width:17.00px;height:1.00px;background:#8a6a20;opacity:.75;"></div>
<div style="left:422.80px;top:431.70px;width:17.00px;height:1.00px;background:#8a4a20;opacity:.75;"></div>
<div style="left:422.80px;top:436.90px;width:17.00px;height:11.00px;background:linear-gradient(90deg,#4f8c1a 0 1px,#5e9a14 1px 3px,#4f8c1a 3px 4px,#5e9a14 4px 7.5px,#3b7418 7.5px 9px,#5e9a14 9px 12px,#4f8c1a 12px 13px,#5e9a14 13px 16px,#4f8c1a 16px 17px);"></div>
<div style="left:422.80px;top:436.90px;width:17.00px;height:1.00px;background:#8a6a20;opacity:.75;"></div>
<div style="left:422.80px;top:446.90px;width:17.00px;height:1.00px;background:#8a4a20;opacity:.75;"></div>
<div style="left:422.20px;top:453.60px;width:16.00px;height:7.50px;line-height:7.50px;font-size:8.2px;color:#e8e8e8;text-align:left;"><span style="display:inline-block;transform:scaleX(0.9);transform-origin:left center">SM</span></div>
<div style="left:418.90px;top:466.00px;width:20.00px;height:8.00px;line-height:8.00px;font-size:8.4px;color:#e8e8e8;text-align:left;"><span style="display:inline-block;transform:scaleX(0.85);transform-origin:left center">TPC</span></div>
<div style="left:449.90px;top:344.00px;width:1.00px;height:132.00px;background:#535158;"></div>
<div style="left:473.40px;top:344.00px;width:1.00px;height:132.00px;background:#3c3a56;"></div>
<div style="left:451.10px;top:346.20px;width:21.60px;height:56.00px;box-shadow:inset 0 0 0 1px #4c4a4c;"></div>
<div style="left:453.40px;top:349.20px;width:16.80px;height:7.60px;background:#eefa4e;box-shadow:inset 0 0 0 1px #f2f8a0;"></div>
<div style="left:453.40px;top:358.30px;width:17.00px;height:2.50px;background:#203a66;"></div>
<div style="left:453.40px;top:375.00px;width:17.00px;height:2.50px;background:#236078;"></div>
<div style="left:453.40px;top:390.80px;width:17.00px;height:2.20px;background:#236078;"></div>
<div style="left:453.60px;top:361.90px;width:17.00px;height:11.00px;background:linear-gradient(90deg,#4f8c1a 0 1px,#5e9a14 1px 3px,#4f8c1a 3px 4px,#5e9a14 4px 7.5px,#3b7418 7.5px 9px,#5e9a14 9px 12px,#4f8c1a 12px 13px,#5e9a14 13px 16px,#4f8c1a 16px 17px);"></div>
<div style="left:453.60px;top:361.90px;width:17.00px;height:1.00px;background:#8a6a20;opacity:.75;"></div>
<div style="left:453.60px;top:371.90px;width:17.00px;height:1.00px;background:#8a4a20;opacity:.75;"></div>
<div style="left:453.60px;top:378.30px;width:17.00px;height:11.00px;background:linear-gradient(90deg,#4f8c1a 0 1px,#5e9a14 1px 3px,#4f8c1a 3px 4px,#5e9a14 4px 7.5px,#3b7418 7.5px 9px,#5e9a14 9px 12px,#4f8c1a 12px 13px,#5e9a14 13px 16px,#4f8c1a 16px 17px);"></div>
<div style="left:453.60px;top:378.30px;width:17.00px;height:1.00px;background:#8a6a20;opacity:.75;"></div>
<div style="left:453.60px;top:388.30px;width:17.00px;height:1.00px;background:#8a4a20;opacity:.75;"></div>
<div style="left:453.00px;top:395.20px;width:16.00px;height:7.50px;line-height:7.50px;font-size:8.2px;color:#e8e8e8;text-align:left;"><span style="display:inline-block;transform:scaleX(0.9);transform-origin:left center">SM</span></div>
<div style="left:451.10px;top:405.00px;width:21.60px;height:56.00px;box-shadow:inset 0 0 0 1px #4c4a4c;"></div>
<div style="left:453.40px;top:408.00px;width:16.80px;height:7.60px;background:#eefa4e;box-shadow:inset 0 0 0 1px #f2f8a0;"></div>
<div style="left:453.40px;top:417.00px;width:17.00px;height:2.50px;background:#203a66;"></div>
<div style="left:453.40px;top:433.00px;width:17.00px;height:2.50px;background:#236078;"></div>
<div style="left:453.40px;top:448.30px;width:17.00px;height:2.20px;background:#236078;"></div>
<div style="left:453.60px;top:421.70px;width:17.00px;height:11.00px;background:linear-gradient(90deg,#4f8c1a 0 1px,#5e9a14 1px 3px,#4f8c1a 3px 4px,#5e9a14 4px 7.5px,#3b7418 7.5px 9px,#5e9a14 9px 12px,#4f8c1a 12px 13px,#5e9a14 13px 16px,#4f8c1a 16px 17px);"></div>
<div style="left:453.60px;top:421.70px;width:17.00px;height:1.00px;background:#8a6a20;opacity:.75;"></div>
<div style="left:453.60px;top:431.70px;width:17.00px;height:1.00px;background:#8a4a20;opacity:.75;"></div>
<div style="left:453.60px;top:436.90px;width:17.00px;height:11.00px;background:linear-gradient(90deg,#4f8c1a 0 1px,#5e9a14 1px 3px,#4f8c1a 3px 4px,#5e9a14 4px 7.5px,#3b7418 7.5px 9px,#5e9a14 9px 12px,#4f8c1a 12px 13px,#5e9a14 13px 16px,#4f8c1a 16px 17px);"></div>
<div style="left:453.60px;top:436.90px;width:17.00px;height:1.00px;background:#8a6a20;opacity:.75;"></div>
<div style="left:453.60px;top:446.90px;width:17.00px;height:1.00px;background:#8a4a20;opacity:.75;"></div>
<div style="left:453.00px;top:453.60px;width:16.00px;height:7.50px;line-height:7.50px;font-size:8.2px;color:#e8e8e8;text-align:left;"><span style="display:inline-block;transform:scaleX(0.9);transform-origin:left center">SM</span></div>
<div style="left:449.70px;top:466.00px;width:20.00px;height:8.00px;line-height:8.00px;font-size:8.4px;color:#e8e8e8;text-align:left;"><span style="display:inline-block;transform:scaleX(0.85);transform-origin:left center">TPC</span></div>
<div style="left:480.70px;top:344.00px;width:1.00px;height:132.00px;background:#535158;"></div>
<div style="left:504.20px;top:344.00px;width:1.00px;height:132.00px;background:#3c3a56;"></div>
<div style="left:481.90px;top:346.20px;width:21.60px;height:56.00px;box-shadow:inset 0 0 0 1px #4c4a4c;"></div>
<div style="left:484.20px;top:349.20px;width:16.80px;height:7.60px;background:#eefa4e;box-shadow:inset 0 0 0 1px #f2f8a0;"></div>
<div style="left:484.20px;top:358.30px;width:17.00px;height:2.50px;background:#203a66;"></div>
<div style="left:484.20px;top:375.00px;width:17.00px;height:2.50px;background:#236078;"></div>
<div style="left:484.20px;top:390.80px;width:17.00px;height:2.20px;background:#236078;"></div>
<div style="left:484.40px;top:361.90px;width:17.00px;height:11.00px;background:linear-gradient(90deg,#4f8c1a 0 1px,#5e9a14 1px 3px,#4f8c1a 3px 4px,#5e9a14 4px 7.5px,#3b7418 7.5px 9px,#5e9a14 9px 12px,#4f8c1a 12px 13px,#5e9a14 13px 16px,#4f8c1a 16px 17px);"></div>
<div style="left:484.40px;top:361.90px;width:17.00px;height:1.00px;background:#8a6a20;opacity:.75;"></div>
<div style="left:484.40px;top:371.90px;width:17.00px;height:1.00px;background:#8a4a20;opacity:.75;"></div>
<div style="left:484.40px;top:378.30px;width:17.00px;height:11.00px;background:linear-gradient(90deg,#4f8c1a 0 1px,#5e9a14 1px 3px,#4f8c1a 3px 4px,#5e9a14 4px 7.5px,#3b7418 7.5px 9px,#5e9a14 9px 12px,#4f8c1a 12px 13px,#5e9a14 13px 16px,#4f8c1a 16px 17px);"></div>
<div style="left:484.40px;top:378.30px;width:17.00px;height:1.00px;background:#8a6a20;opacity:.75;"></div>
<div style="left:484.40px;top:388.30px;width:17.00px;height:1.00px;background:#8a4a20;opacity:.75;"></div>
<div style="left:483.80px;top:395.20px;width:16.00px;height:7.50px;line-height:7.50px;font-size:8.2px;color:#e8e8e8;text-align:left;"><span style="display:inline-block;transform:scaleX(0.9);transform-origin:left center">SM</span></div>
<div style="left:481.90px;top:405.00px;width:21.60px;height:56.00px;box-shadow:inset 0 0 0 1px #4c4a4c;"></div>
<div style="left:484.20px;top:408.00px;width:16.80px;height:7.60px;background:#eefa4e;box-shadow:inset 0 0 0 1px #f2f8a0;"></div>
<div style="left:484.20px;top:417.00px;width:17.00px;height:2.50px;background:#203a66;"></div>
<div style="left:484.20px;top:433.00px;width:17.00px;height:2.50px;background:#236078;"></div>
<div style="left:484.20px;top:448.30px;width:17.00px;height:2.20px;background:#236078;"></div>
<div style="left:484.40px;top:421.70px;width:17.00px;height:11.00px;background:linear-gradient(90deg,#4f8c1a 0 1px,#5e9a14 1px 3px,#4f8c1a 3px 4px,#5e9a14 4px 7.5px,#3b7418 7.5px 9px,#5e9a14 9px 12px,#4f8c1a 12px 13px,#5e9a14 13px 16px,#4f8c1a 16px 17px);"></div>
<div style="left:484.40px;top:421.70px;width:17.00px;height:1.00px;background:#8a6a20;opacity:.75;"></div>
<div style="left:484.40px;top:431.70px;width:17.00px;height:1.00px;background:#8a4a20;opacity:.75;"></div>
<div style="left:484.40px;top:436.90px;width:17.00px;height:11.00px;background:linear-gradient(90deg,#4f8c1a 0 1px,#5e9a14 1px 3px,#4f8c1a 3px 4px,#5e9a14 4px 7.5px,#3b7418 7.5px 9px,#5e9a14 9px 12px,#4f8c1a 12px 13px,#5e9a14 13px 16px,#4f8c1a 16px 17px);"></div>
<div style="left:484.40px;top:436.90px;width:17.00px;height:1.00px;background:#8a6a20;opacity:.75;"></div>
<div style="left:484.40px;top:446.90px;width:17.00px;height:1.00px;background:#8a4a20;opacity:.75;"></div>
<div style="left:483.80px;top:453.60px;width:16.00px;height:7.50px;line-height:7.50px;font-size:8.2px;color:#e8e8e8;text-align:left;"><span style="display:inline-block;transform:scaleX(0.9);transform-origin:left center">SM</span></div>
<div style="left:480.50px;top:466.00px;width:20.00px;height:8.00px;line-height:8.00px;font-size:8.4px;color:#e8e8e8;text-align:left;"><span style="display:inline-block;transform:scaleX(0.85);transform-origin:left center">TPC</span></div>
<div style="left:323.90px;top:478.30px;width:182.50px;height:10.00px;background:#1f5a6a;box-shadow:inset 0 0 0 1px #173a44;"></div>
<div style="left:324.70px;top:479.30px;width:3.20px;height:8.00px;background:#1c4550;"></div>
<div style="left:323.90px;top:478.60px;width:182.50px;height:10.00px;line-height:10.00px;font-size:8.6px;color:#86cde4;text-align:center;"><span style="display:inline-block;transform:scaleX(0.855);transform-origin:center center">Raster Engine</span></div>
<div style="left:322.80px;top:490.20px;width:30.00px;height:8.00px;line-height:8.00px;font-size:8.4px;color:#ececec;text-align:left;"><span style="display:inline-block;transform:scaleX(0.82);transform-origin:left center">GPC</span></div>
</div>
</body></html>
